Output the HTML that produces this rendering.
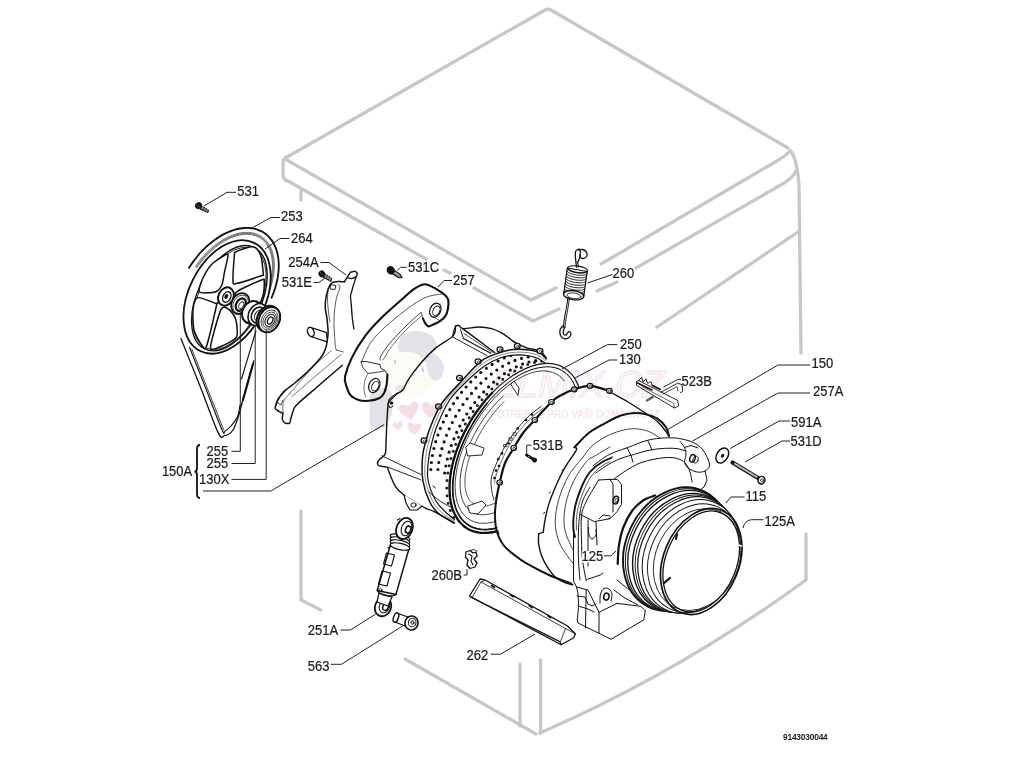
<!DOCTYPE html>
<html><head><meta charset="utf-8"><style>
html,body{margin:0;padding:0;background:#fff;width:1024px;height:768px;overflow:hidden}
svg{display:block}
text{font-family:"Liberation Sans",sans-serif;font-size:13px;fill:#1a1a1a}
.g{fill:none;stroke:#c7c7c7;stroke-width:3.3;stroke-linecap:round;stroke-linejoin:round}
.k{fill:none;stroke:#111;stroke-width:1.1;stroke-linecap:round;stroke-linejoin:round}
.kw{fill:#fff;stroke:#111;stroke-width:1.1;stroke-linejoin:round;stroke-linecap:round}
.kt{fill:none;stroke:#111;stroke-width:2;stroke-linecap:round;stroke-linejoin:round}
.ktw{fill:#fff;stroke:#111;stroke-width:2;stroke-linecap:round;stroke-linejoin:round}
.kf{fill:#111;stroke:none}
.ld{fill:none;stroke:#222;stroke-width:1}
.h{fill:none;stroke:#555;stroke-width:0.7}
</style></head><body>
<svg width="1024" height="768" viewBox="0 0 1024 768">
<!-- cab -->
<g id="cab" class="g">
  <path d="M287,157 L545,10 Q548,8.5 551,10 L788,148"/>
  <path d="M286,157 Q283,159 283,163 L283,175 Q283,179 287,181"/>
  <path d="M286.5,159.8 L531,300 L556,288"/>
  <path d="M601,264 L776,161.5 Q786,155.5 790,151"/>
  <path d="M288,181 L426,259"/>
  <path d="M444,270 L450,273"/>
  <path d="M474,288 L533,321 L559,309"/>
  <path d="M597,291 L617,282"/>
  <path d="M636,268 L785,182.5 Q793,177.5 796.5,170"/>
  <path d="M791,151 Q797,160 799,185 L801,353"/>
  <path d="M301,190 L301,200"/>
  <path d="M657,327 L798,232"/>
  <path d="M301,511 L301,600 L321,610"/>
  <path d="M405,659 L536,734"/>
  <path d="M520,664 L520,726"/>
  <path d="M540.5,660 L540.5,733"/>
  <path d="M540,733 Q680,672 806,580 L806,534"/>
</g>

<!-- pulley -->
<g id="pulley">
<path class="k" d="M181.0,338.7 C184.2,346.6 193.8,370.4 200.0,386.0 C206.2,401.6 213.9,424.1 218.0,432.4 C222.1,440.7 222.0,436.1 224.5,435.7 C227.0,435.3 230.5,433.8 233.0,430.0 C235.5,426.2 238.1,417.2 239.5,413.0 C240.9,408.8 240.1,410.3 241.5,405.0 C242.9,399.7 245.9,388.4 248.0,381.0 C250.1,373.6 252.8,364.2 253.8,360.8" style="stroke-width:1.3"/>
<path class="k" d="M189.5,347.3 C192.2,354.2 200.6,375.2 206.0,389.0 C211.4,402.8 218.8,422.8 222.0,429.8 C225.2,436.8 223.5,431.6 225.0,431.0 C226.5,430.4 228.9,428.4 231.0,426.0 C233.1,423.6 236.0,420.3 237.5,416.8 C239.0,413.3 239.6,407.0 240.0,405.0" />
<path class="k" d="M191.8,349.0 C194.5,355.8 202.7,376.6 208.0,390.0 C213.3,403.4 220.9,422.9 223.5,429.5" style="stroke-width:0.8"/>
<path class="k" d="M241.5,379.0 L253.2,340.0 L256.0,331.0" />
<path class="k" d="M243.0,400.0 L253.0,364.0" style="stroke-width:2.2;stroke-dasharray:1 1"/>
<path class="kt" d="M189.0,267.9 C189.7,267.0 191.4,264.2 192.7,262.4 C194.0,260.6 195.3,258.9 196.7,257.2 C198.0,255.5 199.4,253.8 200.9,252.2 C202.4,250.6 203.9,249.1 205.4,247.6 C206.9,246.2 208.5,244.8 210.1,243.5 C211.7,242.1 213.3,240.9 214.9,239.7 C216.6,238.5 218.2,237.4 219.9,236.4 C221.6,235.4 223.2,234.5 224.9,233.6 C226.6,232.8 228.3,232.1 230.0,231.4 C231.6,230.7 233.3,230.2 235.0,229.7 C236.6,229.2 238.3,228.8 239.9,228.5 C241.5,228.3 243.2,228.1 244.7,228.0 C246.3,227.9 247.9,227.9 249.4,228.0 C250.9,228.1 252.4,228.3 253.8,228.6 C255.2,228.9 256.6,229.3 258.0,229.8 C259.3,230.3 260.6,230.8 261.9,231.5 C263.1,232.2 264.3,233.0 265.4,233.8 C266.5,234.7 267.6,235.6 268.6,236.6 C269.6,237.6 270.5,238.7 271.4,239.9 C272.3,241.1 273.1,242.4 273.8,243.7 C274.5,245.0 275.1,246.5 275.7,247.9 C276.3,249.4 276.8,250.9 277.2,252.5 C277.6,254.1 277.9,255.8 278.2,257.5 C278.4,259.2 278.6,261.0 278.7,262.7 C278.8,264.5 278.8,266.4 278.7,268.3 C278.6,270.1 278.5,272.0 278.2,274.0 C278.0,275.9 277.7,277.9 277.3,279.8 C276.9,281.8 276.4,283.8 275.8,285.8 C275.3,287.8 274.7,289.8 273.9,291.8 C273.2,293.8 272.0,296.8 271.6,297.7" style="stroke-width:1.8"/>
<path class="k" d="M195.3,266.5 C195.9,265.7 197.5,263.3 198.7,261.8 C199.9,260.3 201.1,258.8 202.4,257.3 C203.6,255.9 204.9,254.5 206.2,253.1 C207.5,251.8 208.9,250.5 210.2,249.2 C211.6,248.0 213.0,246.8 214.4,245.7 C215.8,244.5 217.2,243.5 218.7,242.5 C220.1,241.5 221.6,240.6 223.0,239.7 C224.5,238.8 225.9,238.0 227.4,237.3 C228.8,236.6 230.3,236.0 231.7,235.4 C233.2,234.8 234.6,234.3 236.1,233.9 C237.5,233.5 238.9,233.2 240.3,232.9 C241.7,232.7 243.1,232.5 244.4,232.4 C245.8,232.3 247.1,232.3 248.4,232.4 C249.7,232.5 251.0,232.6 252.2,232.8 C253.4,233.1 254.6,233.4 255.8,233.8 C256.9,234.1 258.1,234.6 259.1,235.2 C260.2,235.7 261.2,236.3 262.2,237.0 C263.2,237.7 264.1,238.5 265.0,239.3 C265.8,240.2 266.6,241.1 267.4,242.0 C268.2,243.0 268.9,244.1 269.5,245.2 C270.1,246.3 270.7,247.4 271.2,248.7 C271.8,249.9 272.2,251.2 272.6,252.5 C273.0,253.9 273.3,255.3 273.6,256.7 C273.9,258.1 274.0,259.6 274.2,261.1 C274.3,262.6 274.4,264.2 274.4,265.8 C274.4,267.4 274.3,269.0 274.1,270.7 C274.0,272.3 273.8,274.0 273.5,275.7 C273.3,277.4 272.9,279.2 272.5,280.9 C272.1,282.6 271.6,284.4 271.1,286.1 C270.6,287.9 269.6,290.5 269.3,291.4" style="stroke-width:0.6"/>
<path class="k" d="M196.1,267.1 C196.7,266.3 198.3,264.0 199.5,262.5 C200.6,260.9 201.8,259.5 203.1,258.0 C204.3,256.6 205.6,255.2 206.8,253.9 C208.1,252.6 209.5,251.3 210.8,250.1 C212.1,248.8 213.5,247.7 214.9,246.5 C216.3,245.4 217.7,244.4 219.1,243.4 C220.5,242.4 221.9,241.5 223.3,240.6 C224.7,239.8 226.2,239.0 227.6,238.3 C229.0,237.6 230.4,237.0 231.9,236.4 C233.3,235.8 234.7,235.3 236.1,234.9 C237.5,234.5 238.9,234.2 240.2,233.9 C241.6,233.7 243.0,233.5 244.3,233.4 C245.6,233.3 246.9,233.3 248.2,233.4 C249.4,233.4 250.7,233.6 251.9,233.8 C253.1,234.0 254.3,234.3 255.4,234.7 C256.5,235.0 257.6,235.5 258.6,236.0 C259.7,236.6 260.7,237.2 261.6,237.8 C262.6,238.5 263.5,239.3 264.3,240.1 C265.2,240.9 266.0,241.8 266.7,242.7 C267.4,243.7 268.1,244.7 268.7,245.8 C269.4,246.9 269.9,248.0 270.4,249.2 C270.9,250.4 271.4,251.7 271.7,253.0 C272.1,254.3 272.4,255.7 272.7,257.1 C272.9,258.5 273.1,260.0 273.2,261.4 C273.3,262.9 273.4,264.5 273.4,266.0 C273.4,267.6 273.3,269.2 273.2,270.8 C273.0,272.4 272.8,274.1 272.5,275.8 C272.3,277.4 271.9,279.1 271.5,280.8 C271.1,282.5 270.7,284.3 270.1,286.0 C269.6,287.7 268.7,290.3 268.4,291.1" style="stroke-width:0.6"/>
<path class="k" d="M197.0,267.7 C197.5,266.9 199.1,264.6 200.2,263.1 C201.4,261.6 202.6,260.2 203.8,258.8 C205.0,257.3 206.2,256.0 207.5,254.7 C208.7,253.4 210.0,252.1 211.4,250.9 C212.7,249.7 214.0,248.5 215.4,247.4 C216.7,246.3 218.1,245.3 219.5,244.3 C220.8,243.3 222.2,242.4 223.6,241.6 C225.0,240.8 226.4,240.0 227.8,239.3 C229.2,238.6 230.6,237.9 232.0,237.4 C233.4,236.8 234.8,236.3 236.1,235.9 C237.5,235.5 238.9,235.2 240.2,234.9 C241.5,234.7 242.8,234.5 244.1,234.4 C245.4,234.3 246.7,234.3 247.9,234.3 C249.2,234.4 250.4,234.5 251.6,234.7 C252.7,234.9 253.9,235.2 255.0,235.6 C256.1,235.9 257.1,236.4 258.1,236.9 C259.2,237.4 260.1,238.0 261.1,238.7 C262.0,239.3 262.9,240.1 263.7,240.9 C264.5,241.7 265.3,242.5 266.0,243.5 C266.7,244.4 267.4,245.4 268.0,246.4 C268.6,247.5 269.1,248.6 269.6,249.8 C270.1,251.0 270.5,252.2 270.9,253.5 C271.2,254.8 271.5,256.1 271.8,257.5 C272.0,258.9 272.2,260.3 272.3,261.8 C272.4,263.2 272.4,264.7 272.4,266.3 C272.4,267.8 272.3,269.4 272.2,271.0 C272.0,272.6 271.8,274.2 271.5,275.8 C271.3,277.5 270.9,279.1 270.5,280.8 C270.1,282.5 269.7,284.2 269.1,285.8 C268.6,287.5 267.7,290.1 267.4,290.9" style="stroke-width:0.6"/>
<ellipse class="ktw" cx="227.1" cy="296.9" rx="60.4" ry="38.3" transform="rotate(-63.5 227.1 296.9)" style="stroke-width:1.8"/>
<ellipse class="k" cx="229.4" cy="298.2" rx="56.4" ry="31.8" transform="rotate(-64 229.4 298.2)" style="stroke-width:1.4"/>
<ellipse class="k" cx="229.6" cy="298.4" rx="55.0" ry="30.6" transform="rotate(-64 229.6 298.4)" style="stroke-width:0.8"/>
<path class="kw" d="M199.5,292.0 C198.0,290.4 201.5,281.3 203.0,278.0 C204.5,274.7 209.3,266.7 212.0,264.0 C214.7,261.3 224.1,255.4 226.0,254.5 C227.9,253.6 228.2,254.0 228.0,256.0 C227.8,258.0 225.2,268.7 224.5,272.0 C223.8,275.3 223.0,282.2 222.0,284.5 C221.0,286.8 218.6,290.9 216.0,291.8 C213.4,292.7 201.0,293.6 199.5,292.0 Z" style="stroke-width:1.5"/>
<path class="kw" d="M235.5,252.0 C237.3,251.1 247.1,247.4 249.5,247.0 C251.9,246.6 255.0,247.2 256.4,248.4 C257.8,249.6 260.5,254.2 261.2,257.2 C262.0,260.2 263.2,271.6 263.2,273.8 C263.2,276.0 264.4,274.7 261.2,275.8 C258.1,276.9 239.3,283.0 236.0,283.6 C232.7,284.2 233.2,284.3 233.0,281.0 C232.8,277.7 234.1,258.4 234.4,255.0 C234.7,251.6 233.7,252.9 235.5,252.0 Z" style="stroke-width:1.5"/>
<path class="kw" d="M236.0,292.4 C238.6,289.6 258.9,281.0 262.2,279.7 C265.5,278.4 264.0,280.0 264.2,281.6 C264.4,283.2 264.2,290.7 263.5,293.4 C262.8,296.1 260.7,303.8 258.0,305.0 C255.3,306.2 242.6,305.5 240.0,304.0 C237.4,302.5 233.4,295.2 236.0,292.4 Z" style="stroke-width:1.5"/>
<path class="kw" d="M197.6,297.7 C200.3,297.0 213.9,302.7 216.1,303.6 C218.3,304.5 217.7,300.0 216.6,305.0 C215.5,310.0 208.2,341.9 206.4,346.5 C204.6,351.1 202.4,345.9 201.0,344.0 C199.6,342.1 194.9,334.0 194.0,330.0 C193.1,326.0 192.6,313.8 193.0,310.0 C193.4,306.2 194.9,298.4 197.6,297.7 Z" style="stroke-width:1.5"/>
<path class="kw" d="M221.0,309.4 C223.1,305.0 227.1,308.3 228.8,309.4 C230.5,310.5 234.8,316.0 235.7,319.2 C236.6,322.4 238.2,333.7 236.6,336.8 C235.0,339.9 225.0,344.8 222.0,346.0 C219.0,347.2 210.6,351.8 210.5,347.5 C210.4,343.2 218.9,313.8 221.0,309.4 Z" style="stroke-width:1.5"/>
<ellipse class="ktw" cx="226" cy="296.5" rx="9.5" ry="7.5" transform="rotate(-63 226 296.5)" style="stroke-width:2"/>
<ellipse class="k" cx="226.8" cy="297" rx="5.5" ry="3.8" transform="rotate(-63 226.8 297)" style="stroke-width:1.4"/>
<ellipse class="kf" cx="226.3" cy="296.5" rx="2.5" ry="1.8" transform="rotate(-63 226.3 296.5)" />
<ellipse class="ktw" cx="240.3" cy="303.6" rx="11" ry="8.6" transform="rotate(-62 240.3 303.6)" style="stroke-width:1.7"/>
<ellipse class="k" cx="240.6" cy="304.2" rx="9.6" ry="7.3" transform="rotate(-62 240.6 304.2)" style="stroke-width:0.7"/>
<ellipse class="ktw" cx="240.8" cy="304.6" rx="6.6" ry="4.6" transform="rotate(-62 240.8 304.6)" style="stroke-width:2.2"/>
<ellipse class="k" cx="241.2" cy="305.2" rx="3.8" ry="2.2" transform="rotate(-62 241.2 305.2)" style="stroke-width:0.8"/>
<ellipse class="ktw" cx="251.5" cy="312" rx="11.5" ry="8.8" transform="rotate(-62 251.5 312)" style="stroke-width:1.8"/>
<path class="k" d="M256.6,301.3 L262.0,304.0" style="stroke-width:1.5"/>
<path class="k" d="M246.0,322.6 L252.0,325.0" style="stroke-width:1.5"/>
<ellipse class="ktw" cx="257.5" cy="314.5" rx="11.5" ry="8.8" transform="rotate(-62 257.5 314.5)" style="stroke-width:1.6"/>
<ellipse class="k" cx="258" cy="315" rx="8.3" ry="6.2" transform="rotate(-62 258 315)" style="stroke-width:1.6"/>
<ellipse class="ktw" cx="258.5" cy="315.5" rx="5.5" ry="3.6" transform="rotate(-62 258.5 315.5)" style="stroke-width:1"/>
<ellipse class="ktw" cx="267.5" cy="318.5" rx="13.3" ry="10.2" transform="rotate(-62 267.5 318.5)" style="stroke-width:2"/>
<path class="k" d="M270.5,306.4 L272.5,307.5" />
<ellipse class="ktw" cx="269.3" cy="319.6" rx="13.3" ry="10.2" transform="rotate(-62 269.3 319.6)" style="stroke-width:2"/>
<ellipse class="k" cx="269.6" cy="319.9" rx="10.5" ry="7.9" transform="rotate(-62 269.6 319.9)" style="stroke-width:0.7"/>
<ellipse class="k" cx="269.8" cy="320.1" rx="8.6" ry="6.3" transform="rotate(-62 269.8 320.1)" style="stroke-width:0.7"/>
<ellipse class="k" cx="270" cy="320.3" rx="6.5" ry="4.6" transform="rotate(-62 270 320.3)" style="stroke-width:1"/>
<ellipse class="ktw" cx="270.2" cy="320.5" rx="3.8" ry="2.4" transform="rotate(-62 270.2 320.5)" style="stroke-width:1.3"/>
</g>
<!-- leftparts -->
<g id="leftparts">
<path class="k" d="M201.5,206.0 L208.5,210.0 L208.0,212.5 L200.5,209.5 Z" style="fill:#555;stroke:#111;stroke-width:1"/>
<path class="k" d="M203.0,206.0 L202.2,208.8" style="stroke:#ddd;stroke-width:0.6"/>
<path class="k" d="M205.5,207.4 L204.7,210.2" style="stroke:#ddd;stroke-width:0.6"/>
<path class="k" d="M207.5,208.7 L206.7,211.5" style="stroke:#ddd;stroke-width:0.6"/>
<ellipse class="kf" cx="198.6" cy="205.6" rx="3.6" ry="3.4" transform="rotate(-30 198.6 205.6)" />
<path class="k" d="M197.0,204.5 L199.5,207.0" style="stroke:#777;stroke-width:0.7"/>
<path class="k" d="M324.5,273.5 L331.5,278.0 L331.0,281.5 L323.5,277.5 Z" style="fill:#555;stroke:#111;stroke-width:1"/>
<path class="k" d="M326.3,274.2 L325.5,277.2" style="stroke:#ddd;stroke-width:0.7"/>
<path class="k" d="M328.6,275.6 L327.8,278.6" style="stroke:#ddd;stroke-width:0.7"/>
<path class="k" d="M330.6,277.0 L329.8,280.0" style="stroke:#ddd;stroke-width:0.7"/>
<ellipse class="kf" cx="321.8" cy="273.9" rx="3.3" ry="3.4" transform="rotate(-35 321.8 273.9)" />
<path class="k" d="M320.5,272.5 L322.5,275.0" style="stroke:#777;stroke-width:0.7"/>
<path class="k" d="M393.0,269.5 L400.5,274.8 L402.0,277.6 L398.8,277.8 L391.5,273.3 Z" style="fill:#888;stroke:#111;stroke-width:1.1"/>
<path class="k" d="M395.5,272.5 L399.0,275.2" style="stroke:#ddd;stroke-width:0.8"/>
<ellipse class="kf" cx="390.7" cy="270.3" rx="4.0" ry="4.3" transform="rotate(-30 390.7 270.3)" />
<path d="M346.9,277.6 L350.4,272.3 L355.1,271.1 L357.4,273.5 L356.0,277.5 L351.6,291.7 L350.6,296.0 L351.6,312.8 L353.9,330.0 L343.6,350.8 L342.3,365.2 L297.3,404.2 L294.7,408.0 L290.8,418.5 L289.5,423.1 L284.3,422.4 L282.4,418.5 L283.0,413.3 L277.8,410.7 L275.2,408.0 L277.8,400.3 L283.0,392.5 L296.0,382.0 L309.0,370.4 L322.0,356.0 L326.0,347.0 L327.0,342.0 L328.1,332.7 L327.0,318.6 L325.2,306.9 L326.4,295.2 L329.9,285.2 L332.8,282.3 L337.5,281.7 L344.5,281.7 Z" fill="#fff" stroke="none"/>
<path class="k" d="M344.5,281.7 C343.3,281.7 339.4,281.5 337.5,281.6 C335.6,281.7 334.1,281.7 332.8,282.3 C331.5,282.9 331.0,283.1 329.9,285.2 C328.8,287.3 327.2,291.6 326.4,295.2 C325.6,298.8 325.1,303.0 325.2,306.9 C325.3,310.8 326.5,314.3 327.0,318.6 C327.5,322.9 328.1,328.8 328.1,332.7 C328.1,336.6 327.4,339.6 327.0,342.0 C326.6,344.4 326.8,344.7 326.0,347.0 C325.2,349.3 324.8,352.1 322.0,356.0 C319.2,359.9 313.3,366.1 309.0,370.4 C304.7,374.7 300.3,378.3 296.0,382.0 C291.7,385.7 286.0,389.4 283.0,392.5 C280.0,395.6 279.1,397.7 277.8,400.3 C276.5,402.9 275.2,406.3 275.2,408.0 C275.2,409.7 277.2,410.1 277.6,410.5" style="stroke-width:1.5"/>
<path class="k" d="M344.5,281.7 L346.9,277.6 L350.4,272.3 L355.1,271.1 L357.4,273.5 L356.3,276.4 L354.5,277.8 L351.3,278.6 L346.9,277.6" style="stroke-width:1.4"/>
<path class="k" d="M356.0,277.5 C355.6,278.8 354.2,282.6 353.5,285.0 C352.8,287.4 352.1,289.9 351.6,291.7 C351.1,293.5 350.6,293.8 350.5,296.0 C350.4,298.2 351.0,301.3 351.3,305.0 C351.6,308.7 351.9,314.0 352.3,318.0 C352.7,322.0 353.6,327.2 353.9,329.0" style="stroke-width:1.3"/>
<path class="k" d="M277.6,410.5 C278.2,410.8 280.1,412.0 281.0,412.5 C281.9,413.0 282.8,412.5 283.0,413.5 C283.2,414.5 282.0,417.0 282.2,418.5 C282.4,420.0 283.1,421.8 284.3,422.6 C285.5,423.4 288.4,424.0 289.5,423.3 C290.6,422.6 290.1,420.7 290.8,418.5 C291.5,416.3 292.4,412.4 293.5,410.0 C294.6,407.6 292.9,408.4 297.3,404.2 C301.7,399.9 312.5,391.0 320.0,384.5 C327.5,378.0 338.6,368.4 342.3,365.2" style="stroke-width:1.5"/>
<path class="k" d="M338.7,284.6 C338.9,285.2 340.3,285.6 339.9,288.0 C339.5,290.4 337.3,293.6 336.3,298.7 C335.3,303.8 334.2,310.9 334.0,318.6 C333.8,326.3 334.8,339.8 335.2,345.0 C335.6,350.2 336.3,349.2 336.5,350.0" style="stroke-width:0.7"/>
<path class="k" d="M331.0,284.8 L335.8,285.5 L335.0,289.5 L330.5,289.0 Z" style="stroke-width:0.9"/>
<path class="k" d="M328.1,289.3 C328.0,291.1 327.4,296.2 327.5,300.0 C327.6,303.8 328.1,308.3 328.5,312.0 C328.9,315.7 329.7,320.3 329.9,322.0" style="stroke-width:0.7"/>
<path class="k" d="M331.2,350.8 C328.0,353.7 318.9,360.8 312.0,368.0 C305.1,375.2 293.2,389.5 289.5,393.8" style="stroke-width:0.6"/>
<path class="k" d="M341.0,354.7 C337.2,357.9 326.2,367.1 318.0,374.0 C309.8,380.9 296.3,392.7 292.0,396.4" style="stroke-width:0.6"/>
<path class="k" d="M336.5,350.0 L343.3,352.0" style="stroke-width:0.7"/>
<path class="k" d="M284.6,391.5 C283.5,392.8 279.4,396.8 278.0,399.0 C276.6,401.2 276.3,404.0 276.0,405.0" style="stroke-width:1.1"/>
<path class="k" d="M277.5,403.0 L281.0,405.0 L283.0,400.0" style="stroke-width:0.8"/>
<path class="k" d="M289.5,393.8 C288.8,394.7 286.1,397.3 285.0,399.0 C283.9,400.7 283.3,401.7 283.0,404.0 C282.7,406.3 283.0,411.5 283.0,413.0" style="stroke-width:0.6"/>
<path class="kw" d="M311.0,327.5 L326.5,332.5 L327.3,341.8 L310.5,336.5 Z" style="stroke-width:1.3"/>
<ellipse class="ktw" cx="310.8" cy="332" rx="3.2" ry="4.8" transform="rotate(-20 310.8 332)" style="stroke-width:1.4"/>
<path class="k" d="M314.0,328.5 L325.5,332.5" style="stroke-width:0.6"/>
<path d="M345.9,384.7 L345.1,376.2 L351.9,357.6 L365.4,335.6 L382.3,317.0 L399.3,301.7 L412.8,289.9 L423.0,284.4 L429.8,285.6 L441.6,292.4 L447.6,298.3 L448.4,305.1 L445.9,315.3 L440.0,321.2 L431.5,325.4 L428.1,326.3 L425.5,323.7 L423.0,318.6 L423.0,318.6 L420.0,316.5 L407.8,327.1 L390.8,345.7 L382.3,357.6 L384.9,370.3 L387.4,374.5 L386.6,384.7 L384.0,393.2 L379.0,398.3 L368.8,400.8 L358.6,400.0 L350.2,394.9 L345.9,384.7 Z" fill="#fff" stroke="none"/>
<path class="kt" d="M345.9,384.7 C345.8,383.3 344.1,380.7 345.1,376.2 C346.1,371.7 348.5,364.4 351.9,357.6 C355.3,350.8 360.3,342.4 365.4,335.6 C370.5,328.8 376.6,322.6 382.3,317.0 C388.0,311.4 394.2,306.2 399.3,301.7 C404.4,297.2 408.9,292.8 412.8,289.9 C416.8,287.0 420.2,285.1 423.0,284.4 C425.8,283.7 426.7,284.3 429.8,285.6 C432.9,286.9 438.6,290.3 441.6,292.4 C444.6,294.5 446.5,296.2 447.6,298.3 C448.7,300.4 448.7,302.3 448.4,305.1 C448.1,307.9 447.3,312.6 445.9,315.3 C444.5,318.0 442.4,319.5 440.0,321.2 C437.6,322.9 433.5,324.5 431.5,325.4 C429.5,326.2 429.1,326.6 428.1,326.3 C427.1,326.0 426.4,325.0 425.5,323.7 C424.6,322.4 423.4,319.5 423.0,318.6" style="stroke-width:2.1"/>
<path class="kt" d="M387.4,374.5 C387.3,376.2 387.2,381.6 386.6,384.7 C386.0,387.8 385.3,390.9 384.0,393.2 C382.7,395.5 381.5,397.0 379.0,398.3 C376.5,399.6 372.2,400.5 368.8,400.8 C365.4,401.1 361.7,401.0 358.6,400.0 C355.5,399.0 352.3,397.4 350.2,394.9 C348.1,392.3 346.6,386.4 345.9,384.7" style="stroke-width:2.1"/>
<path class="k" d="M441.6,294.1 C439.7,294.4 433.7,294.9 430.0,296.0 C426.3,297.1 423.9,298.0 419.6,300.5 C415.3,303.0 410.3,306.4 404.4,311.0 C398.5,315.6 389.6,322.7 384.0,328.0 C378.4,333.3 373.8,338.3 370.5,343.0 C367.2,347.7 365.5,352.8 364.0,356.0 C362.5,359.2 361.9,361.0 361.5,362.0" style="stroke-width:0.7"/>
<path class="k" d="M423.0,318.6 C422.8,317.8 422.1,314.8 421.5,314.0 C420.9,313.2 422.4,311.4 419.6,313.6 C416.9,315.8 409.9,322.1 405.0,327.0 C400.1,331.9 393.9,338.3 390.0,343.0 C386.1,347.7 383.2,352.2 381.5,355.0 C379.8,357.8 380.2,359.2 380.0,360.0" style="stroke-width:0.8"/>
<path class="k" d="M421.5,316.0 C418.9,318.3 410.9,325.0 406.0,330.0 C401.1,335.0 395.8,341.0 392.0,346.0 C388.2,351.0 384.5,357.7 383.0,360.0" style="stroke-width:0.6"/>
<path class="k" d="M361.2,361.8 L366.0,361.5 L380.0,364.5 L381.0,368.6 L385.0,370.5 L387.4,374.5" style="stroke-width:0.9"/>
<path class="k" d="M361.2,361.8 L362.5,367.0 L368.0,373.5 L379.0,372.0 L384.0,371.0" style="stroke-width:0.8"/>
<path class="k" d="M368.0,373.5 C367.5,374.6 365.7,377.2 365.0,380.0 C364.3,382.8 363.8,387.2 364.0,390.0 C364.2,392.8 365.7,395.8 366.0,397.0" style="stroke-width:0.6"/>
<path class="k" d="M441.0,321.0 C440.3,320.7 438.2,319.7 437.0,319.0 C435.8,318.3 434.5,317.3 434.0,317.0" style="stroke-width:0.6"/>
<ellipse class="k" cx="435.3" cy="310.2" rx="5.3" ry="7.4" transform="rotate(25 435.3 310.2)" style="stroke-width:1.2"/>
<ellipse class="k" cx="436.3" cy="310.8" rx="3.3" ry="5.0" transform="rotate(25 436.3 310.8)" style="stroke-width:0.9"/>
<ellipse class="k" cx="374.3" cy="385.5" rx="5.3" ry="7.4" transform="rotate(25 374.3 385.5)" style="stroke-width:1.2"/>
<ellipse class="k" cx="375.3" cy="386.1" rx="3.3" ry="5.0" transform="rotate(25 375.3 386.1)" style="stroke-width:0.9"/>
</g>
<!-- center -->
<g id="center">
<ellipse class="" cx="492.3" cy="435.8" rx="95" ry="61.9" transform="rotate(-60.65 492.3 435.8)" fill="#fff" stroke="none"/>
<path d="M458.8,325.5 L455.6,326.5 L453.3,335.6 L435.0,348.6 L422.0,361.7 L409.0,378.6 L402.5,390.3 L396.0,394.0 L390.0,399.0 L388.2,403.3 L387.0,420.0 L386.0,442.3 L385.2,454.1 L380.0,459.0 L377.6,462.5 L378.5,465.5 L383.0,466.5 L387.5,467.5 L388.6,471.0 L395.4,486.3 L403.8,494.8 L414.0,501.5 L425.8,508.3 L434.3,511.7 L454.4,523.0 L470.0,520.0 L520.0,470.0 L546.0,358.0 L546.2,358.0 L540.0,351.2 L527.5,348.1 L518.0,344.2 L511.9,340.3 L502.5,333.3 L491.6,328.6 L479.0,327.0 L463.4,328.6 L458.8,325.5 Z" fill="#fff" stroke="none"/>
<path class="k" d="M458.8,325.5 C458.2,325.7 456.5,324.8 455.6,326.5 C454.7,328.2 456.7,331.9 453.3,335.6 C449.9,339.3 440.2,344.2 435.0,348.6 C429.8,353.0 426.3,356.7 422.0,361.7 C417.7,366.7 412.2,373.8 409.0,378.6 C405.8,383.4 404.7,387.7 402.5,390.3 C400.3,392.9 398.1,392.6 396.0,394.0 C393.9,395.4 391.3,397.4 390.0,399.0 C388.7,400.6 388.7,399.8 388.2,403.3 C387.7,406.8 387.4,413.5 387.0,420.0 C386.6,426.5 386.3,436.6 386.0,442.3 C385.7,448.0 386.2,451.3 385.2,454.1 C384.2,456.9 381.3,457.6 380.0,459.0 C378.7,460.4 377.9,461.4 377.6,462.5 C377.4,463.6 377.6,464.8 378.5,465.5 C379.4,466.2 381.5,466.2 383.0,466.5 C384.5,466.8 386.6,466.8 387.5,467.5 C388.4,468.2 387.3,467.9 388.6,471.0 C389.9,474.1 392.9,482.3 395.4,486.3 C397.9,490.3 400.7,492.3 403.8,494.8 C406.9,497.3 410.3,499.2 414.0,501.5 C417.7,503.8 422.4,506.6 425.8,508.3 C429.2,510.0 429.5,509.2 434.3,511.7 C439.1,514.1 451.0,521.1 454.4,523.0" style="stroke-width:1.4"/>
<path class="k" d="M458.8,325.5 C459.5,326.0 460.0,328.4 463.4,328.6 C466.8,328.9 474.3,327.0 479.0,327.0 C483.7,327.0 487.7,327.6 491.6,328.6 C495.5,329.7 499.1,331.4 502.5,333.3 C505.9,335.2 509.3,338.5 511.9,340.3 C514.5,342.1 515.4,342.9 518.0,344.2 C520.6,345.5 523.8,346.9 527.5,348.1 C531.2,349.3 536.9,349.6 540.0,351.2 C543.1,352.9 545.2,356.9 546.2,358.0" style="stroke-width:1.4"/>
<path class="k" d="M462.7,328.7 L494.7,352.5" style="stroke-width:1.5"/>
<path class="k" d="M463.4,338.4 L490.8,353.3" style="stroke-width:1.1"/>
<path class="k" d="M464.0,333.5 L492.5,352.5" style="stroke-width:0.7"/>
<path class="k" d="M460.5,329.5 L463.4,338.4" style="stroke-width:1"/>
<path class="k" d="M452.5,336.9 L486.9,355.6" style="stroke-width:0.9"/>
<path class="k" d="M455.6,325.8 L453.5,332.0 L452.5,336.9" style="stroke-width:1.2"/>
<path class="k" d="M381.8,455.8 L421.0,474.5" style="stroke-width:0.9"/>
<path class="k" d="M387.5,467.0 L421.0,480.0" style="stroke-width:0.9"/>
<path class="kw" d="M404.0,494.5 L406.0,503.0 L410.0,510.0 L417.0,510.0 L422.0,506.0" style="stroke-width:1.2"/>
<ellipse class="k" cx="413.5" cy="505" rx="2.6" ry="2.2" transform="rotate(0 413.5 505)" style="stroke-width:1"/>
<path class="k" d="M402.5,390.3 L396.0,395.0 L391.0,400.0 L388.0,404.0 L390.0,408.0 L393.0,406.0" style="stroke-width:1"/>
<ellipse class="kf" cx="391.5" cy="403" rx="1.8" ry="1.5" transform="rotate(0 391.5 403)" />
<defs><mask id="perfmask" maskUnits="userSpaceOnUse" x="0" y="0" width="1024" height="768"><path d="M454.4,519.5 C452.8,518.2 448.1,514.7 445.0,511.5 C441.9,508.3 438.4,505.8 435.6,500.5 C432.8,495.2 429.2,486.3 428.0,480.0 C426.8,473.7 427.7,468.0 428.2,462.5 C428.7,457.0 429.3,453.0 430.8,446.9 C432.3,440.8 433.9,433.8 437.0,426.0 C440.1,418.2 444.8,407.3 449.6,400.0 C454.4,392.7 460.2,387.7 466.0,382.0 C471.8,376.3 478.9,370.0 484.6,366.0 C490.3,362.0 495.2,359.8 500.0,358.0 C504.8,356.2 508.8,355.6 513.4,355.2 C518.0,354.8 523.4,354.9 527.5,355.5 C531.6,356.1 535.1,357.2 538.0,358.5 C540.9,359.8 543.8,362.2 545.0,363.0 L600,420 L560,560 Z" fill="#fff"/><ellipse cx="515.8" cy="448.2" rx="94.6" ry="53.5" transform="rotate(-58.8 515.8 448.2)" fill="#000"/></mask></defs>
<path d="M564.9,365.7m-1.5,0a1.5,1.5 0 1,0 3,0a1.5,1.5 0 1,0 -3,0M570.8,370.3m-1.5,0a1.5,1.5 0 1,0 3,0a1.5,1.5 0 1,0 -3,0M575.5,376.1m-1.5,0a1.5,1.5 0 1,0 3,0a1.5,1.5 0 1,0 -3,0M579.1,382.8m-1.5,0a1.5,1.5 0 1,0 3,0a1.5,1.5 0 1,0 -3,0M581.6,390.1m-1.5,0a1.5,1.5 0 1,0 3,0a1.5,1.5 0 1,0 -3,0M583.1,397.6m-1.5,0a1.5,1.5 0 1,0 3,0a1.5,1.5 0 1,0 -3,0M583.7,405.2m-1.5,0a1.5,1.5 0 1,0 3,0a1.5,1.5 0 1,0 -3,0M583.6,412.7m-1.5,0a1.5,1.5 0 1,0 3,0a1.5,1.5 0 1,0 -3,0M582.9,420.3m-1.5,0a1.5,1.5 0 1,0 3,0a1.5,1.5 0 1,0 -3,0M581.7,427.7m-1.5,0a1.5,1.5 0 1,0 3,0a1.5,1.5 0 1,0 -3,0M580.1,435.0m-1.5,0a1.5,1.5 0 1,0 3,0a1.5,1.5 0 1,0 -3,0M578.0,442.2m-1.5,0a1.5,1.5 0 1,0 3,0a1.5,1.5 0 1,0 -3,0M575.6,449.3m-1.5,0a1.5,1.5 0 1,0 3,0a1.5,1.5 0 1,0 -3,0M572.8,456.2m-1.5,0a1.5,1.5 0 1,0 3,0a1.5,1.5 0 1,0 -3,0M569.7,463.0m-1.5,0a1.5,1.5 0 1,0 3,0a1.5,1.5 0 1,0 -3,0M566.3,469.6m-1.5,0a1.5,1.5 0 1,0 3,0a1.5,1.5 0 1,0 -3,0M562.6,476.0m-1.5,0a1.5,1.5 0 1,0 3,0a1.5,1.5 0 1,0 -3,0M558.7,482.3m-1.5,0a1.5,1.5 0 1,0 3,0a1.5,1.5 0 1,0 -3,0M554.5,488.4m-1.5,0a1.5,1.5 0 1,0 3,0a1.5,1.5 0 1,0 -3,0M550.0,494.2m-1.5,0a1.5,1.5 0 1,0 3,0a1.5,1.5 0 1,0 -3,0M545.2,499.8m-1.5,0a1.5,1.5 0 1,0 3,0a1.5,1.5 0 1,0 -3,0M540.3,505.2m-1.5,0a1.5,1.5 0 1,0 3,0a1.5,1.5 0 1,0 -3,0M535.0,510.3m-1.5,0a1.5,1.5 0 1,0 3,0a1.5,1.5 0 1,0 -3,0M529.5,515.1m-1.5,0a1.5,1.5 0 1,0 3,0a1.5,1.5 0 1,0 -3,0M523.8,519.6m-1.5,0a1.5,1.5 0 1,0 3,0a1.5,1.5 0 1,0 -3,0M517.8,523.6m-1.5,0a1.5,1.5 0 1,0 3,0a1.5,1.5 0 1,0 -3,0M511.5,527.2m-1.5,0a1.5,1.5 0 1,0 3,0a1.5,1.5 0 1,0 -3,0M504.9,530.3m-1.5,0a1.5,1.5 0 1,0 3,0a1.5,1.5 0 1,0 -3,0M498.2,532.7m-1.5,0a1.5,1.5 0 1,0 3,0a1.5,1.5 0 1,0 -3,0M491.2,534.3m-1.5,0a1.5,1.5 0 1,0 3,0a1.5,1.5 0 1,0 -3,0M484.0,534.9m-1.5,0a1.5,1.5 0 1,0 3,0a1.5,1.5 0 1,0 -3,0M476.9,534.3m-1.5,0a1.5,1.5 0 1,0 3,0a1.5,1.5 0 1,0 -3,0M469.9,532.3m-1.5,0a1.5,1.5 0 1,0 3,0a1.5,1.5 0 1,0 -3,0M463.5,528.7m-1.5,0a1.5,1.5 0 1,0 3,0a1.5,1.5 0 1,0 -3,0M458.0,523.7m-1.5,0a1.5,1.5 0 1,0 3,0a1.5,1.5 0 1,0 -3,0M453.6,517.6m-1.5,0a1.5,1.5 0 1,0 3,0a1.5,1.5 0 1,0 -3,0M450.4,510.6m-1.5,0a1.5,1.5 0 1,0 3,0a1.5,1.5 0 1,0 -3,0M448.2,503.3m-1.5,0a1.5,1.5 0 1,0 3,0a1.5,1.5 0 1,0 -3,0M447.1,495.7m-1.5,0a1.5,1.5 0 1,0 3,0a1.5,1.5 0 1,0 -3,0M446.7,488.1m-1.5,0a1.5,1.5 0 1,0 3,0a1.5,1.5 0 1,0 -3,0M447.0,480.6m-1.5,0a1.5,1.5 0 1,0 3,0a1.5,1.5 0 1,0 -3,0M447.9,473.1m-1.5,0a1.5,1.5 0 1,0 3,0a1.5,1.5 0 1,0 -3,0M449.2,465.7m-1.5,0a1.5,1.5 0 1,0 3,0a1.5,1.5 0 1,0 -3,0M451.0,458.4m-1.5,0a1.5,1.5 0 1,0 3,0a1.5,1.5 0 1,0 -3,0M453.2,451.2m-1.5,0a1.5,1.5 0 1,0 3,0a1.5,1.5 0 1,0 -3,0M455.7,444.2m-1.5,0a1.5,1.5 0 1,0 3,0a1.5,1.5 0 1,0 -3,0M458.6,437.3m-1.5,0a1.5,1.5 0 1,0 3,0a1.5,1.5 0 1,0 -3,0M461.8,430.6m-1.5,0a1.5,1.5 0 1,0 3,0a1.5,1.5 0 1,0 -3,0M465.3,424.0m-1.5,0a1.5,1.5 0 1,0 3,0a1.5,1.5 0 1,0 -3,0M469.1,417.7m-1.5,0a1.5,1.5 0 1,0 3,0a1.5,1.5 0 1,0 -3,0M473.1,411.5m-1.5,0a1.5,1.5 0 1,0 3,0a1.5,1.5 0 1,0 -3,0M477.4,405.5m-1.5,0a1.5,1.5 0 1,0 3,0a1.5,1.5 0 1,0 -3,0M482.0,399.7m-1.5,0a1.5,1.5 0 1,0 3,0a1.5,1.5 0 1,0 -3,0M486.8,394.2m-1.5,0a1.5,1.5 0 1,0 3,0a1.5,1.5 0 1,0 -3,0M491.9,388.9m-1.5,0a1.5,1.5 0 1,0 3,0a1.5,1.5 0 1,0 -3,0M497.2,383.9m-1.5,0a1.5,1.5 0 1,0 3,0a1.5,1.5 0 1,0 -3,0M502.8,379.2m-1.5,0a1.5,1.5 0 1,0 3,0a1.5,1.5 0 1,0 -3,0M508.6,374.8m-1.5,0a1.5,1.5 0 1,0 3,0a1.5,1.5 0 1,0 -3,0M514.7,370.9m-1.5,0a1.5,1.5 0 1,0 3,0a1.5,1.5 0 1,0 -3,0M521.1,367.5m-1.5,0a1.5,1.5 0 1,0 3,0a1.5,1.5 0 1,0 -3,0M527.7,364.6m-1.5,0a1.5,1.5 0 1,0 3,0a1.5,1.5 0 1,0 -3,0M534.5,362.5m-1.5,0a1.5,1.5 0 1,0 3,0a1.5,1.5 0 1,0 -3,0M541.6,361.2m-1.5,0a1.5,1.5 0 1,0 3,0a1.5,1.5 0 1,0 -3,0M548.7,361.0m-1.5,0a1.5,1.5 0 1,0 3,0a1.5,1.5 0 1,0 -3,0M555.9,362.0m-1.5,0a1.5,1.5 0 1,0 3,0a1.5,1.5 0 1,0 -3,0M562.7,364.5m-1.5,0a1.5,1.5 0 1,0 3,0a1.5,1.5 0 1,0 -3,0" fill="#222" mask="url(#perfmask)"/>
<path d="M541.4,354.5m-1.6,0a1.6,1.6 0 1,0 3.2,0a1.6,1.6 0 1,0 -3.2,0M547.2,358.5m-1.6,0a1.6,1.6 0 1,0 3.2,0a1.6,1.6 0 1,0 -3.2,0M552.2,363.4m-1.6,0a1.6,1.6 0 1,0 3.2,0a1.6,1.6 0 1,0 -3.2,0M556.4,369.2m-1.6,0a1.6,1.6 0 1,0 3.2,0a1.6,1.6 0 1,0 -3.2,0M559.7,375.5m-1.6,0a1.6,1.6 0 1,0 3.2,0a1.6,1.6 0 1,0 -3.2,0M562.2,382.2m-1.6,0a1.6,1.6 0 1,0 3.2,0a1.6,1.6 0 1,0 -3.2,0M563.9,389.2m-1.6,0a1.6,1.6 0 1,0 3.2,0a1.6,1.6 0 1,0 -3.2,0M565.0,396.3m-1.6,0a1.6,1.6 0 1,0 3.2,0a1.6,1.6 0 1,0 -3.2,0M565.4,403.4m-1.6,0a1.6,1.6 0 1,0 3.2,0a1.6,1.6 0 1,0 -3.2,0M565.2,410.5m-1.6,0a1.6,1.6 0 1,0 3.2,0a1.6,1.6 0 1,0 -3.2,0M564.6,417.6m-1.6,0a1.6,1.6 0 1,0 3.2,0a1.6,1.6 0 1,0 -3.2,0M563.5,424.6m-1.6,0a1.6,1.6 0 1,0 3.2,0a1.6,1.6 0 1,0 -3.2,0M562.0,431.5m-1.6,0a1.6,1.6 0 1,0 3.2,0a1.6,1.6 0 1,0 -3.2,0M560.1,438.3m-1.6,0a1.6,1.6 0 1,0 3.2,0a1.6,1.6 0 1,0 -3.2,0M557.9,445.0m-1.6,0a1.6,1.6 0 1,0 3.2,0a1.6,1.6 0 1,0 -3.2,0M555.3,451.5m-1.6,0a1.6,1.6 0 1,0 3.2,0a1.6,1.6 0 1,0 -3.2,0M552.5,457.9m-1.6,0a1.6,1.6 0 1,0 3.2,0a1.6,1.6 0 1,0 -3.2,0M549.3,464.2m-1.6,0a1.6,1.6 0 1,0 3.2,0a1.6,1.6 0 1,0 -3.2,0M545.8,470.3m-1.6,0a1.6,1.6 0 1,0 3.2,0a1.6,1.6 0 1,0 -3.2,0M542.1,476.2m-1.6,0a1.6,1.6 0 1,0 3.2,0a1.6,1.6 0 1,0 -3.2,0M538.1,481.9m-1.6,0a1.6,1.6 0 1,0 3.2,0a1.6,1.6 0 1,0 -3.2,0M533.8,487.4m-1.6,0a1.6,1.6 0 1,0 3.2,0a1.6,1.6 0 1,0 -3.2,0M529.3,492.7m-1.6,0a1.6,1.6 0 1,0 3.2,0a1.6,1.6 0 1,0 -3.2,0M524.5,497.7m-1.6,0a1.6,1.6 0 1,0 3.2,0a1.6,1.6 0 1,0 -3.2,0M519.4,502.4m-1.6,0a1.6,1.6 0 1,0 3.2,0a1.6,1.6 0 1,0 -3.2,0M514.1,506.9m-1.6,0a1.6,1.6 0 1,0 3.2,0a1.6,1.6 0 1,0 -3.2,0M508.5,511.0m-1.6,0a1.6,1.6 0 1,0 3.2,0a1.6,1.6 0 1,0 -3.2,0M502.7,514.6m-1.6,0a1.6,1.6 0 1,0 3.2,0a1.6,1.6 0 1,0 -3.2,0M496.7,517.9m-1.6,0a1.6,1.6 0 1,0 3.2,0a1.6,1.6 0 1,0 -3.2,0M490.4,520.6m-1.6,0a1.6,1.6 0 1,0 3.2,0a1.6,1.6 0 1,0 -3.2,0M483.9,522.8m-1.6,0a1.6,1.6 0 1,0 3.2,0a1.6,1.6 0 1,0 -3.2,0M477.2,524.2m-1.6,0a1.6,1.6 0 1,0 3.2,0a1.6,1.6 0 1,0 -3.2,0M424.0,473.5m-1.6,0a1.6,1.6 0 1,0 3.2,0a1.6,1.6 0 1,0 -3.2,0M424.0,466.3m-1.6,0a1.6,1.6 0 1,0 3.2,0a1.6,1.6 0 1,0 -3.2,0M424.4,459.2m-1.6,0a1.6,1.6 0 1,0 3.2,0a1.6,1.6 0 1,0 -3.2,0M425.3,452.2m-1.6,0a1.6,1.6 0 1,0 3.2,0a1.6,1.6 0 1,0 -3.2,0M426.7,445.3m-1.6,0a1.6,1.6 0 1,0 3.2,0a1.6,1.6 0 1,0 -3.2,0M428.4,438.4m-1.6,0a1.6,1.6 0 1,0 3.2,0a1.6,1.6 0 1,0 -3.2,0M430.5,431.7m-1.6,0a1.6,1.6 0 1,0 3.2,0a1.6,1.6 0 1,0 -3.2,0M432.9,425.1m-1.6,0a1.6,1.6 0 1,0 3.2,0a1.6,1.6 0 1,0 -3.2,0M435.7,418.6m-1.6,0a1.6,1.6 0 1,0 3.2,0a1.6,1.6 0 1,0 -3.2,0M438.7,412.3m-1.6,0a1.6,1.6 0 1,0 3.2,0a1.6,1.6 0 1,0 -3.2,0M442.1,406.1m-1.6,0a1.6,1.6 0 1,0 3.2,0a1.6,1.6 0 1,0 -3.2,0M445.7,400.2m-1.6,0a1.6,1.6 0 1,0 3.2,0a1.6,1.6 0 1,0 -3.2,0M449.6,394.4m-1.6,0a1.6,1.6 0 1,0 3.2,0a1.6,1.6 0 1,0 -3.2,0M453.8,388.8m-1.6,0a1.6,1.6 0 1,0 3.2,0a1.6,1.6 0 1,0 -3.2,0M458.2,383.4m-1.6,0a1.6,1.6 0 1,0 3.2,0a1.6,1.6 0 1,0 -3.2,0M462.9,378.3m-1.6,0a1.6,1.6 0 1,0 3.2,0a1.6,1.6 0 1,0 -3.2,0M467.9,373.4m-1.6,0a1.6,1.6 0 1,0 3.2,0a1.6,1.6 0 1,0 -3.2,0M473.1,368.9m-1.6,0a1.6,1.6 0 1,0 3.2,0a1.6,1.6 0 1,0 -3.2,0M478.6,364.7m-1.6,0a1.6,1.6 0 1,0 3.2,0a1.6,1.6 0 1,0 -3.2,0M484.3,360.8m-1.6,0a1.6,1.6 0 1,0 3.2,0a1.6,1.6 0 1,0 -3.2,0M490.3,357.4m-1.6,0a1.6,1.6 0 1,0 3.2,0a1.6,1.6 0 1,0 -3.2,0M496.5,354.4m-1.6,0a1.6,1.6 0 1,0 3.2,0a1.6,1.6 0 1,0 -3.2,0M502.9,352.1m-1.6,0a1.6,1.6 0 1,0 3.2,0a1.6,1.6 0 1,0 -3.2,0M509.5,350.3m-1.6,0a1.6,1.6 0 1,0 3.2,0a1.6,1.6 0 1,0 -3.2,0M516.3,349.4m-1.6,0a1.6,1.6 0 1,0 3.2,0a1.6,1.6 0 1,0 -3.2,0M523.1,349.3m-1.6,0a1.6,1.6 0 1,0 3.2,0a1.6,1.6 0 1,0 -3.2,0M529.9,350.2m-1.6,0a1.6,1.6 0 1,0 3.2,0a1.6,1.6 0 1,0 -3.2,0M536.6,352.2m-1.6,0a1.6,1.6 0 1,0 3.2,0a1.6,1.6 0 1,0 -3.2,0M549.0,359.0m-1.6,0a1.6,1.6 0 1,0 3.2,0a1.6,1.6 0 1,0 -3.2,0M554.5,363.3m-1.6,0a1.6,1.6 0 1,0 3.2,0a1.6,1.6 0 1,0 -3.2,0M559.2,368.7m-1.6,0a1.6,1.6 0 1,0 3.2,0a1.6,1.6 0 1,0 -3.2,0M563.0,374.8m-1.6,0a1.6,1.6 0 1,0 3.2,0a1.6,1.6 0 1,0 -3.2,0M565.8,381.3m-1.6,0a1.6,1.6 0 1,0 3.2,0a1.6,1.6 0 1,0 -3.2,0M567.8,388.2m-1.6,0a1.6,1.6 0 1,0 3.2,0a1.6,1.6 0 1,0 -3.2,0M569.0,395.3m-1.6,0a1.6,1.6 0 1,0 3.2,0a1.6,1.6 0 1,0 -3.2,0M569.6,402.4m-1.6,0a1.6,1.6 0 1,0 3.2,0a1.6,1.6 0 1,0 -3.2,0M569.6,409.6m-1.6,0a1.6,1.6 0 1,0 3.2,0a1.6,1.6 0 1,0 -3.2,0M569.1,416.7m-1.6,0a1.6,1.6 0 1,0 3.2,0a1.6,1.6 0 1,0 -3.2,0M568.1,423.7m-1.6,0a1.6,1.6 0 1,0 3.2,0a1.6,1.6 0 1,0 -3.2,0M566.6,430.6m-1.6,0a1.6,1.6 0 1,0 3.2,0a1.6,1.6 0 1,0 -3.2,0M564.8,437.5m-1.6,0a1.6,1.6 0 1,0 3.2,0a1.6,1.6 0 1,0 -3.2,0M562.7,444.2m-1.6,0a1.6,1.6 0 1,0 3.2,0a1.6,1.6 0 1,0 -3.2,0M560.2,450.8m-1.6,0a1.6,1.6 0 1,0 3.2,0a1.6,1.6 0 1,0 -3.2,0M557.4,457.2m-1.6,0a1.6,1.6 0 1,0 3.2,0a1.6,1.6 0 1,0 -3.2,0M554.3,463.5m-1.6,0a1.6,1.6 0 1,0 3.2,0a1.6,1.6 0 1,0 -3.2,0M550.9,469.7m-1.6,0a1.6,1.6 0 1,0 3.2,0a1.6,1.6 0 1,0 -3.2,0M547.3,475.6m-1.6,0a1.6,1.6 0 1,0 3.2,0a1.6,1.6 0 1,0 -3.2,0M543.4,481.4m-1.6,0a1.6,1.6 0 1,0 3.2,0a1.6,1.6 0 1,0 -3.2,0M539.2,487.0m-1.6,0a1.6,1.6 0 1,0 3.2,0a1.6,1.6 0 1,0 -3.2,0M534.8,492.4m-1.6,0a1.6,1.6 0 1,0 3.2,0a1.6,1.6 0 1,0 -3.2,0M530.1,497.5m-1.6,0a1.6,1.6 0 1,0 3.2,0a1.6,1.6 0 1,0 -3.2,0M525.2,502.4m-1.6,0a1.6,1.6 0 1,0 3.2,0a1.6,1.6 0 1,0 -3.2,0M520.0,507.0m-1.6,0a1.6,1.6 0 1,0 3.2,0a1.6,1.6 0 1,0 -3.2,0M514.5,511.2m-1.6,0a1.6,1.6 0 1,0 3.2,0a1.6,1.6 0 1,0 -3.2,0M508.9,515.1m-1.6,0a1.6,1.6 0 1,0 3.2,0a1.6,1.6 0 1,0 -3.2,0M502.9,518.6m-1.6,0a1.6,1.6 0 1,0 3.2,0a1.6,1.6 0 1,0 -3.2,0M496.8,521.6m-1.6,0a1.6,1.6 0 1,0 3.2,0a1.6,1.6 0 1,0 -3.2,0M490.4,524.0m-1.6,0a1.6,1.6 0 1,0 3.2,0a1.6,1.6 0 1,0 -3.2,0M483.8,525.8m-1.6,0a1.6,1.6 0 1,0 3.2,0a1.6,1.6 0 1,0 -3.2,0M477.0,526.8m-1.6,0a1.6,1.6 0 1,0 3.2,0a1.6,1.6 0 1,0 -3.2,0M430.8,469.6m-1.6,0a1.6,1.6 0 1,0 3.2,0a1.6,1.6 0 1,0 -3.2,0M431.4,462.5m-1.6,0a1.6,1.6 0 1,0 3.2,0a1.6,1.6 0 1,0 -3.2,0M432.4,455.5m-1.6,0a1.6,1.6 0 1,0 3.2,0a1.6,1.6 0 1,0 -3.2,0M433.9,448.5m-1.6,0a1.6,1.6 0 1,0 3.2,0a1.6,1.6 0 1,0 -3.2,0M435.7,441.7m-1.6,0a1.6,1.6 0 1,0 3.2,0a1.6,1.6 0 1,0 -3.2,0M437.9,435.0m-1.6,0a1.6,1.6 0 1,0 3.2,0a1.6,1.6 0 1,0 -3.2,0M440.4,428.4m-1.6,0a1.6,1.6 0 1,0 3.2,0a1.6,1.6 0 1,0 -3.2,0M443.3,422.0m-1.6,0a1.6,1.6 0 1,0 3.2,0a1.6,1.6 0 1,0 -3.2,0M446.4,415.7m-1.6,0a1.6,1.6 0 1,0 3.2,0a1.6,1.6 0 1,0 -3.2,0M449.8,409.6m-1.6,0a1.6,1.6 0 1,0 3.2,0a1.6,1.6 0 1,0 -3.2,0M453.5,403.6m-1.6,0a1.6,1.6 0 1,0 3.2,0a1.6,1.6 0 1,0 -3.2,0M457.4,397.9m-1.6,0a1.6,1.6 0 1,0 3.2,0a1.6,1.6 0 1,0 -3.2,0M461.6,392.3m-1.6,0a1.6,1.6 0 1,0 3.2,0a1.6,1.6 0 1,0 -3.2,0M466.1,387.0m-1.6,0a1.6,1.6 0 1,0 3.2,0a1.6,1.6 0 1,0 -3.2,0M470.8,381.9m-1.6,0a1.6,1.6 0 1,0 3.2,0a1.6,1.6 0 1,0 -3.2,0M475.7,377.0m-1.6,0a1.6,1.6 0 1,0 3.2,0a1.6,1.6 0 1,0 -3.2,0M480.9,372.5m-1.6,0a1.6,1.6 0 1,0 3.2,0a1.6,1.6 0 1,0 -3.2,0M486.4,368.3m-1.6,0a1.6,1.6 0 1,0 3.2,0a1.6,1.6 0 1,0 -3.2,0M492.1,364.4m-1.6,0a1.6,1.6 0 1,0 3.2,0a1.6,1.6 0 1,0 -3.2,0M498.1,361.0m-1.6,0a1.6,1.6 0 1,0 3.2,0a1.6,1.6 0 1,0 -3.2,0M504.3,358.0m-1.6,0a1.6,1.6 0 1,0 3.2,0a1.6,1.6 0 1,0 -3.2,0M510.7,355.6m-1.6,0a1.6,1.6 0 1,0 3.2,0a1.6,1.6 0 1,0 -3.2,0M517.3,353.9m-1.6,0a1.6,1.6 0 1,0 3.2,0a1.6,1.6 0 1,0 -3.2,0M524.1,353.0m-1.6,0a1.6,1.6 0 1,0 3.2,0a1.6,1.6 0 1,0 -3.2,0M530.9,353.0m-1.6,0a1.6,1.6 0 1,0 3.2,0a1.6,1.6 0 1,0 -3.2,0M537.7,354.1m-1.6,0a1.6,1.6 0 1,0 3.2,0a1.6,1.6 0 1,0 -3.2,0M544.2,356.3m-1.6,0a1.6,1.6 0 1,0 3.2,0a1.6,1.6 0 1,0 -3.2,0M553.4,361.5m-1.6,0a1.6,1.6 0 1,0 3.2,0a1.6,1.6 0 1,0 -3.2,0M559.1,365.7m-1.6,0a1.6,1.6 0 1,0 3.2,0a1.6,1.6 0 1,0 -3.2,0M563.9,370.9m-1.6,0a1.6,1.6 0 1,0 3.2,0a1.6,1.6 0 1,0 -3.2,0M567.7,377.0m-1.6,0a1.6,1.6 0 1,0 3.2,0a1.6,1.6 0 1,0 -3.2,0M570.5,383.6m-1.6,0a1.6,1.6 0 1,0 3.2,0a1.6,1.6 0 1,0 -3.2,0M572.4,390.6m-1.6,0a1.6,1.6 0 1,0 3.2,0a1.6,1.6 0 1,0 -3.2,0M573.5,397.7m-1.6,0a1.6,1.6 0 1,0 3.2,0a1.6,1.6 0 1,0 -3.2,0M574.0,404.8m-1.6,0a1.6,1.6 0 1,0 3.2,0a1.6,1.6 0 1,0 -3.2,0M573.8,411.9m-1.6,0a1.6,1.6 0 1,0 3.2,0a1.6,1.6 0 1,0 -3.2,0M573.2,419.0m-1.6,0a1.6,1.6 0 1,0 3.2,0a1.6,1.6 0 1,0 -3.2,0M572.1,426.1m-1.6,0a1.6,1.6 0 1,0 3.2,0a1.6,1.6 0 1,0 -3.2,0M570.5,433.0m-1.6,0a1.6,1.6 0 1,0 3.2,0a1.6,1.6 0 1,0 -3.2,0M568.6,439.8m-1.6,0a1.6,1.6 0 1,0 3.2,0a1.6,1.6 0 1,0 -3.2,0M566.4,446.5m-1.6,0a1.6,1.6 0 1,0 3.2,0a1.6,1.6 0 1,0 -3.2,0M563.8,453.1m-1.6,0a1.6,1.6 0 1,0 3.2,0a1.6,1.6 0 1,0 -3.2,0M560.9,459.5m-1.6,0a1.6,1.6 0 1,0 3.2,0a1.6,1.6 0 1,0 -3.2,0M557.8,465.7m-1.6,0a1.6,1.6 0 1,0 3.2,0a1.6,1.6 0 1,0 -3.2,0M554.4,471.9m-1.6,0a1.6,1.6 0 1,0 3.2,0a1.6,1.6 0 1,0 -3.2,0M550.7,477.8m-1.6,0a1.6,1.6 0 1,0 3.2,0a1.6,1.6 0 1,0 -3.2,0M546.7,483.6m-1.6,0a1.6,1.6 0 1,0 3.2,0a1.6,1.6 0 1,0 -3.2,0M542.5,489.1m-1.6,0a1.6,1.6 0 1,0 3.2,0a1.6,1.6 0 1,0 -3.2,0M538.1,494.5m-1.6,0a1.6,1.6 0 1,0 3.2,0a1.6,1.6 0 1,0 -3.2,0M533.4,499.6m-1.6,0a1.6,1.6 0 1,0 3.2,0a1.6,1.6 0 1,0 -3.2,0M528.5,504.5m-1.6,0a1.6,1.6 0 1,0 3.2,0a1.6,1.6 0 1,0 -3.2,0M523.3,509.1m-1.6,0a1.6,1.6 0 1,0 3.2,0a1.6,1.6 0 1,0 -3.2,0M517.9,513.3m-1.6,0a1.6,1.6 0 1,0 3.2,0a1.6,1.6 0 1,0 -3.2,0M512.2,517.3m-1.6,0a1.6,1.6 0 1,0 3.2,0a1.6,1.6 0 1,0 -3.2,0M506.3,520.8m-1.6,0a1.6,1.6 0 1,0 3.2,0a1.6,1.6 0 1,0 -3.2,0M500.2,523.8m-1.6,0a1.6,1.6 0 1,0 3.2,0a1.6,1.6 0 1,0 -3.2,0M493.8,526.2m-1.6,0a1.6,1.6 0 1,0 3.2,0a1.6,1.6 0 1,0 -3.2,0M487.2,528.0m-1.6,0a1.6,1.6 0 1,0 3.2,0a1.6,1.6 0 1,0 -3.2,0M480.5,529.0m-1.6,0a1.6,1.6 0 1,0 3.2,0a1.6,1.6 0 1,0 -3.2,0M437.9,469.5m-1.6,0a1.6,1.6 0 1,0 3.2,0a1.6,1.6 0 1,0 -3.2,0M438.8,462.5m-1.6,0a1.6,1.6 0 1,0 3.2,0a1.6,1.6 0 1,0 -3.2,0M440.2,455.5m-1.6,0a1.6,1.6 0 1,0 3.2,0a1.6,1.6 0 1,0 -3.2,0M441.9,448.7m-1.6,0a1.6,1.6 0 1,0 3.2,0a1.6,1.6 0 1,0 -3.2,0M444.1,441.9m-1.6,0a1.6,1.6 0 1,0 3.2,0a1.6,1.6 0 1,0 -3.2,0M446.5,435.3m-1.6,0a1.6,1.6 0 1,0 3.2,0a1.6,1.6 0 1,0 -3.2,0M449.2,428.8m-1.6,0a1.6,1.6 0 1,0 3.2,0a1.6,1.6 0 1,0 -3.2,0M452.3,422.5m-1.6,0a1.6,1.6 0 1,0 3.2,0a1.6,1.6 0 1,0 -3.2,0M455.6,416.3m-1.6,0a1.6,1.6 0 1,0 3.2,0a1.6,1.6 0 1,0 -3.2,0M459.2,410.3m-1.6,0a1.6,1.6 0 1,0 3.2,0a1.6,1.6 0 1,0 -3.2,0M463.0,404.5m-1.6,0a1.6,1.6 0 1,0 3.2,0a1.6,1.6 0 1,0 -3.2,0M467.1,398.8m-1.6,0a1.6,1.6 0 1,0 3.2,0a1.6,1.6 0 1,0 -3.2,0M471.5,393.4m-1.6,0a1.6,1.6 0 1,0 3.2,0a1.6,1.6 0 1,0 -3.2,0M476.0,388.2m-1.6,0a1.6,1.6 0 1,0 3.2,0a1.6,1.6 0 1,0 -3.2,0M480.9,383.2m-1.6,0a1.6,1.6 0 1,0 3.2,0a1.6,1.6 0 1,0 -3.2,0M486.0,378.5m-1.6,0a1.6,1.6 0 1,0 3.2,0a1.6,1.6 0 1,0 -3.2,0M491.3,374.1m-1.6,0a1.6,1.6 0 1,0 3.2,0a1.6,1.6 0 1,0 -3.2,0M496.8,370.0m-1.6,0a1.6,1.6 0 1,0 3.2,0a1.6,1.6 0 1,0 -3.2,0M502.6,366.3m-1.6,0a1.6,1.6 0 1,0 3.2,0a1.6,1.6 0 1,0 -3.2,0M508.7,363.1m-1.6,0a1.6,1.6 0 1,0 3.2,0a1.6,1.6 0 1,0 -3.2,0M515.0,360.4m-1.6,0a1.6,1.6 0 1,0 3.2,0a1.6,1.6 0 1,0 -3.2,0M521.5,358.4m-1.6,0a1.6,1.6 0 1,0 3.2,0a1.6,1.6 0 1,0 -3.2,0M528.2,357.0m-1.6,0a1.6,1.6 0 1,0 3.2,0a1.6,1.6 0 1,0 -3.2,0M535.0,356.6m-1.6,0a1.6,1.6 0 1,0 3.2,0a1.6,1.6 0 1,0 -3.2,0M541.8,357.3m-1.6,0a1.6,1.6 0 1,0 3.2,0a1.6,1.6 0 1,0 -3.2,0M548.4,359.1m-1.6,0a1.6,1.6 0 1,0 3.2,0a1.6,1.6 0 1,0 -3.2,0M560.9,366.0m-1.6,0a1.6,1.6 0 1,0 3.2,0a1.6,1.6 0 1,0 -3.2,0M566.3,370.5m-1.6,0a1.6,1.6 0 1,0 3.2,0a1.6,1.6 0 1,0 -3.2,0M570.7,376.2m-1.6,0a1.6,1.6 0 1,0 3.2,0a1.6,1.6 0 1,0 -3.2,0M574.0,382.6m-1.6,0a1.6,1.6 0 1,0 3.2,0a1.6,1.6 0 1,0 -3.2,0M576.3,389.4m-1.6,0a1.6,1.6 0 1,0 3.2,0a1.6,1.6 0 1,0 -3.2,0M577.7,396.5m-1.6,0a1.6,1.6 0 1,0 3.2,0a1.6,1.6 0 1,0 -3.2,0M578.3,403.7m-1.6,0a1.6,1.6 0 1,0 3.2,0a1.6,1.6 0 1,0 -3.2,0M578.3,410.8m-1.6,0a1.6,1.6 0 1,0 3.2,0a1.6,1.6 0 1,0 -3.2,0M577.8,418.0m-1.6,0a1.6,1.6 0 1,0 3.2,0a1.6,1.6 0 1,0 -3.2,0M576.8,425.0m-1.6,0a1.6,1.6 0 1,0 3.2,0a1.6,1.6 0 1,0 -3.2,0M575.3,432.0m-1.6,0a1.6,1.6 0 1,0 3.2,0a1.6,1.6 0 1,0 -3.2,0M573.5,438.8m-1.6,0a1.6,1.6 0 1,0 3.2,0a1.6,1.6 0 1,0 -3.2,0M571.3,445.5m-1.6,0a1.6,1.6 0 1,0 3.2,0a1.6,1.6 0 1,0 -3.2,0M568.8,452.1m-1.6,0a1.6,1.6 0 1,0 3.2,0a1.6,1.6 0 1,0 -3.2,0M566.0,458.6m-1.6,0a1.6,1.6 0 1,0 3.2,0a1.6,1.6 0 1,0 -3.2,0M562.9,464.9m-1.6,0a1.6,1.6 0 1,0 3.2,0a1.6,1.6 0 1,0 -3.2,0M559.5,471.1m-1.6,0a1.6,1.6 0 1,0 3.2,0a1.6,1.6 0 1,0 -3.2,0M555.9,477.1m-1.6,0a1.6,1.6 0 1,0 3.2,0a1.6,1.6 0 1,0 -3.2,0M552.1,482.9m-1.6,0a1.6,1.6 0 1,0 3.2,0a1.6,1.6 0 1,0 -3.2,0M548.0,488.6m-1.6,0a1.6,1.6 0 1,0 3.2,0a1.6,1.6 0 1,0 -3.2,0M543.7,494.0m-1.6,0a1.6,1.6 0 1,0 3.2,0a1.6,1.6 0 1,0 -3.2,0M539.1,499.2m-1.6,0a1.6,1.6 0 1,0 3.2,0a1.6,1.6 0 1,0 -3.2,0M534.3,504.2m-1.6,0a1.6,1.6 0 1,0 3.2,0a1.6,1.6 0 1,0 -3.2,0M529.2,509.0m-1.6,0a1.6,1.6 0 1,0 3.2,0a1.6,1.6 0 1,0 -3.2,0M523.9,513.4m-1.6,0a1.6,1.6 0 1,0 3.2,0a1.6,1.6 0 1,0 -3.2,0M518.4,517.5m-1.6,0a1.6,1.6 0 1,0 3.2,0a1.6,1.6 0 1,0 -3.2,0M512.6,521.2m-1.6,0a1.6,1.6 0 1,0 3.2,0a1.6,1.6 0 1,0 -3.2,0M506.6,524.5m-1.6,0a1.6,1.6 0 1,0 3.2,0a1.6,1.6 0 1,0 -3.2,0M500.4,527.3m-1.6,0a1.6,1.6 0 1,0 3.2,0a1.6,1.6 0 1,0 -3.2,0M493.9,529.4m-1.6,0a1.6,1.6 0 1,0 3.2,0a1.6,1.6 0 1,0 -3.2,0M487.3,530.8m-1.6,0a1.6,1.6 0 1,0 3.2,0a1.6,1.6 0 1,0 -3.2,0M480.5,531.2m-1.6,0a1.6,1.6 0 1,0 3.2,0a1.6,1.6 0 1,0 -3.2,0M444.7,473.0m-1.6,0a1.6,1.6 0 1,0 3.2,0a1.6,1.6 0 1,0 -3.2,0M445.8,466.0m-1.6,0a1.6,1.6 0 1,0 3.2,0a1.6,1.6 0 1,0 -3.2,0M447.3,459.0m-1.6,0a1.6,1.6 0 1,0 3.2,0a1.6,1.6 0 1,0 -3.2,0M449.1,452.2m-1.6,0a1.6,1.6 0 1,0 3.2,0a1.6,1.6 0 1,0 -3.2,0M451.3,445.5m-1.6,0a1.6,1.6 0 1,0 3.2,0a1.6,1.6 0 1,0 -3.2,0M453.9,438.9m-1.6,0a1.6,1.6 0 1,0 3.2,0a1.6,1.6 0 1,0 -3.2,0M456.7,432.4m-1.6,0a1.6,1.6 0 1,0 3.2,0a1.6,1.6 0 1,0 -3.2,0M459.8,426.1m-1.6,0a1.6,1.6 0 1,0 3.2,0a1.6,1.6 0 1,0 -3.2,0M463.2,420.0m-1.6,0a1.6,1.6 0 1,0 3.2,0a1.6,1.6 0 1,0 -3.2,0M466.8,414.0m-1.6,0a1.6,1.6 0 1,0 3.2,0a1.6,1.6 0 1,0 -3.2,0M470.7,408.2m-1.6,0a1.6,1.6 0 1,0 3.2,0a1.6,1.6 0 1,0 -3.2,0M474.8,402.6m-1.6,0a1.6,1.6 0 1,0 3.2,0a1.6,1.6 0 1,0 -3.2,0M479.1,397.1m-1.6,0a1.6,1.6 0 1,0 3.2,0a1.6,1.6 0 1,0 -3.2,0M483.7,391.9m-1.6,0a1.6,1.6 0 1,0 3.2,0a1.6,1.6 0 1,0 -3.2,0M488.6,386.9m-1.6,0a1.6,1.6 0 1,0 3.2,0a1.6,1.6 0 1,0 -3.2,0M493.6,382.2m-1.6,0a1.6,1.6 0 1,0 3.2,0a1.6,1.6 0 1,0 -3.2,0M498.9,377.8m-1.6,0a1.6,1.6 0 1,0 3.2,0a1.6,1.6 0 1,0 -3.2,0M504.5,373.7m-1.6,0a1.6,1.6 0 1,0 3.2,0a1.6,1.6 0 1,0 -3.2,0M510.3,370.1m-1.6,0a1.6,1.6 0 1,0 3.2,0a1.6,1.6 0 1,0 -3.2,0M516.3,366.8m-1.6,0a1.6,1.6 0 1,0 3.2,0a1.6,1.6 0 1,0 -3.2,0M522.6,364.1m-1.6,0a1.6,1.6 0 1,0 3.2,0a1.6,1.6 0 1,0 -3.2,0M529.0,362.0m-1.6,0a1.6,1.6 0 1,0 3.2,0a1.6,1.6 0 1,0 -3.2,0M535.7,360.7m-1.6,0a1.6,1.6 0 1,0 3.2,0a1.6,1.6 0 1,0 -3.2,0M542.5,360.4m-1.6,0a1.6,1.6 0 1,0 3.2,0a1.6,1.6 0 1,0 -3.2,0M549.3,361.1m-1.6,0a1.6,1.6 0 1,0 3.2,0a1.6,1.6 0 1,0 -3.2,0M555.8,363.2m-1.6,0a1.6,1.6 0 1,0 3.2,0a1.6,1.6 0 1,0 -3.2,0" fill="#111" mask="url(#perfmask)"/>
<path class="k" d="M429.0,492.0 C430.8,493.5 435.9,498.2 440.0,501.0 C444.1,503.8 451.2,507.2 453.5,508.5" style="stroke-width:0.9"/>
<path class="k" d="M433.0,486.0 L435.5,488.0" style="stroke-width:1"/>
<path class="k" d="M454.4,523.0 C451.8,521.5 442.9,517.4 438.8,513.8 C434.6,510.1 432.1,506.9 429.4,501.2 C426.7,495.6 423.9,487.3 422.8,480.0 C421.7,472.7 422.0,463.7 422.5,457.3 C423.0,450.9 423.9,447.8 425.6,441.7 C427.3,435.6 430.1,427.3 432.9,420.8 C435.7,414.3 437.7,409.0 442.4,402.5 C447.1,396.0 454.5,388.6 461.0,381.7 C467.5,374.8 475.0,365.7 481.5,360.8 C488.0,355.9 494.7,354.4 500.0,352.5 C505.3,350.6 508.8,349.9 513.4,349.5 C518.0,349.1 523.1,349.2 527.5,349.8 C531.9,350.4 536.9,351.5 540.0,353.0 C543.1,354.5 545.2,358.0 546.2,359.0" style="stroke-width:1.5"/>
<path class="k" d="M454.4,519.5 C452.8,518.2 448.1,514.7 445.0,511.5 C441.9,508.3 438.4,505.8 435.6,500.5 C432.8,495.2 429.2,486.3 428.0,480.0 C426.8,473.7 427.7,468.0 428.2,462.5 C428.7,457.0 429.3,453.0 430.8,446.9 C432.3,440.8 433.9,433.8 437.0,426.0 C440.1,418.2 444.8,407.3 449.6,400.0 C454.4,392.7 460.2,387.7 466.0,382.0 C471.8,376.3 478.9,370.0 484.6,366.0 C490.3,362.0 495.2,359.8 500.0,358.0 C504.8,356.2 508.8,355.6 513.4,355.2 C518.0,354.8 523.4,354.9 527.5,355.5 C531.6,356.1 535.1,357.2 538.0,358.5 C540.9,359.8 543.8,362.2 545.0,363.0" style="stroke-width:1.2"/>
<path class="k" d="M454.4,521.2 C452.3,519.8 445.5,516.0 441.9,512.6 C438.2,509.2 435.2,506.3 432.5,500.9 C429.8,495.4 426.6,486.8 425.4,480.0 C424.2,473.2 424.9,465.8 425.4,459.9 C425.8,453.9 426.6,450.4 428.2,444.3 C429.8,438.2 432.0,430.6 434.9,423.4 C437.9,416.2 441.2,408.2 446.0,401.2 C450.8,394.3 457.3,388.2 463.5,381.9 C469.7,375.5 477.0,367.8 483.1,363.4 C489.1,359.0 494.9,357.1 500.0,355.2 C505.1,353.4 508.8,352.8 513.4,352.4 C518.0,351.9 523.2,352.1 527.5,352.6 C531.8,353.2 536.0,354.4 539.0,355.8 C542.0,357.1 544.5,360.1 545.6,361.0" style="stroke-width:0.5"/>
<ellipse class="kw" cx="459.5" cy="378" rx="2.9" ry="2.6" transform="rotate(0 459.5 378)" style="stroke-width:1.3"/>
<ellipse class="k" cx="460.0" cy="378.4" rx="1.2" ry="1.0" transform="rotate(0 460.0 378.4)" style="stroke-width:0.7"/>
<ellipse class="kw" cx="478" cy="361.5" rx="2.9" ry="2.6" transform="rotate(0 478 361.5)" style="stroke-width:1.3"/>
<ellipse class="k" cx="478.5" cy="361.9" rx="1.2" ry="1.0" transform="rotate(0 478.5 361.9)" style="stroke-width:0.7"/>
<ellipse class="kw" cx="500" cy="349.5" rx="2.9" ry="2.6" transform="rotate(0 500 349.5)" style="stroke-width:1.3"/>
<ellipse class="k" cx="500.5" cy="349.9" rx="1.2" ry="1.0" transform="rotate(0 500.5 349.9)" style="stroke-width:0.7"/>
<ellipse class="kw" cx="517.3" cy="346" rx="2.9" ry="2.6" transform="rotate(0 517.3 346)" style="stroke-width:1.3"/>
<ellipse class="k" cx="517.8" cy="346.4" rx="1.2" ry="1.0" transform="rotate(0 517.8 346.4)" style="stroke-width:0.7"/>
<ellipse class="kw" cx="540" cy="351" rx="2.9" ry="2.6" transform="rotate(0 540 351)" style="stroke-width:1.3"/>
<ellipse class="k" cx="540.5" cy="351.4" rx="1.2" ry="1.0" transform="rotate(0 540.5 351.4)" style="stroke-width:0.7"/>
<ellipse class="kw" cx="438.5" cy="406.5" rx="2.9" ry="2.6" transform="rotate(0 438.5 406.5)" style="stroke-width:1.3"/>
<ellipse class="k" cx="439.0" cy="406.9" rx="1.2" ry="1.0" transform="rotate(0 439.0 406.9)" style="stroke-width:0.7"/>
<ellipse class="kw" cx="424" cy="440.5" rx="2.9" ry="2.6" transform="rotate(0 424 440.5)" style="stroke-width:1.3"/>
<ellipse class="k" cx="424.5" cy="440.9" rx="1.2" ry="1.0" transform="rotate(0 424.5 440.9)" style="stroke-width:0.7"/>
<ellipse class="kw" cx="515.8" cy="448.2" rx="93.8" ry="52.7" transform="rotate(-58.8 515.8 448.2)" style="stroke-width:1.2"/>
<path class="kt" d="M496.3,531.3 C495.6,531.5 493.7,532.0 492.4,532.2 C491.1,532.4 489.8,532.6 488.6,532.7 C487.3,532.9 486.1,532.9 484.9,532.9 C483.7,533.0 482.5,532.9 481.3,532.8 C480.2,532.7 479.0,532.6 477.9,532.4 C476.8,532.2 475.7,531.9 474.6,531.6 C473.5,531.3 472.5,531.0 471.5,530.6 C470.4,530.1 469.4,529.7 468.5,529.2 C467.5,528.6 466.6,528.1 465.7,527.5 C464.8,526.8 463.9,526.2 463.1,525.4 C462.3,524.7 461.5,524.0 460.7,523.1 C460.0,522.3 459.2,521.5 458.5,520.5 C457.9,519.6 457.2,518.7 456.6,517.7 C456.0,516.7 455.4,515.6 454.9,514.5 C454.3,513.4 453.8,512.3 453.4,511.1 C452.9,510.0 452.5,508.8 452.1,507.5 C451.7,506.3 451.4,505.0 451.1,503.6 C450.8,502.3 450.5,501.0 450.3,499.6 C450.1,498.2 449.9,496.7 449.8,495.3 C449.7,493.8 449.6,492.4 449.6,490.8 C449.5,489.3 449.5,487.8 449.5,486.2 C449.6,484.7 449.7,483.1 449.8,481.5 C449.9,479.9 450.1,478.2 450.3,476.6 C450.5,474.9 450.8,473.3 451.1,471.6 C451.3,469.9 451.7,468.2 452.1,466.5 C452.4,464.8 452.8,463.1 453.3,461.3 C453.8,459.6 454.3,457.9 454.8,456.1 C455.3,454.4 455.9,452.6 456.5,450.9 C457.1,449.1 457.8,447.4 458.5,445.6 C459.1,443.9 459.9,442.1 460.6,440.4 C461.4,438.6 462.2,436.9 463.0,435.2 C463.8,433.4 464.7,431.7 465.6,430.0 C466.5,428.3 467.4,426.6 468.4,424.9 C469.3,423.2 470.3,421.6 471.3,419.9 C472.3,418.3 473.4,416.6 474.4,415.0 C475.5,413.4 476.6,411.8 477.7,410.3 C478.9,408.7 480.0,407.2 481.2,405.6 C482.3,404.1 483.5,402.6 484.7,401.2 C485.9,399.7 487.2,398.3 488.4,396.9 C489.7,395.5 491.6,393.5 492.2,392.8" style="stroke-width:2.3"/>
<ellipse class="k" cx="515.8" cy="448.2" rx="90.3" ry="49.5" transform="rotate(-58.8 515.8 448.2)" style="stroke-width:0.9"/>
<path class="k" d="M496.5,527.9 C495.9,528.1 494.1,528.5 493.0,528.7 C491.8,529.0 490.7,529.2 489.5,529.3 C488.4,529.4 487.3,529.5 486.2,529.6 C485.1,529.6 484.0,529.6 483.0,529.5 C481.9,529.5 480.9,529.4 479.9,529.2 C478.8,529.1 477.8,528.9 476.9,528.7 C475.9,528.4 474.9,528.1 474.0,527.8 C473.1,527.5 472.2,527.1 471.3,526.7 C470.4,526.3 469.6,525.8 468.7,525.3 C467.9,524.8 467.1,524.2 466.4,523.6 C465.6,523.0 464.8,522.3 464.1,521.7 C463.4,521.0 462.7,520.2 462.1,519.5 C461.4,518.7 460.8,517.9 460.2,517.0 C459.6,516.2 459.1,515.3 458.6,514.4 C458.0,513.4 457.6,512.5 457.1,511.5 C456.7,510.5 456.2,509.4 455.8,508.3 C455.5,507.3 455.1,506.1 454.8,505.0 C454.5,503.9 454.2,502.7 454.0,501.5 C453.7,500.3 453.5,499.0 453.3,497.8 C453.2,496.5 453.0,495.2 452.9,493.9 C452.8,492.5 452.7,491.2 452.7,489.8 C452.7,488.5 452.7,487.1 452.7,485.6 C452.8,484.2 452.9,482.8 453.0,481.3 C453.1,479.9 453.3,478.4 453.5,476.9 C453.6,475.4 453.9,473.9 454.1,472.3 C454.4,470.8 454.7,469.3 455.0,467.7 C455.4,466.2 455.7,464.6 456.1,463.0 C456.5,461.5 457.0,459.9 457.4,458.3 C457.9,456.7 458.4,455.1 459.0,453.5 C459.5,451.9 460.1,450.3 460.7,448.7 C461.3,447.1 461.9,445.5 462.6,444.0 C463.2,442.4 463.9,440.8 464.7,439.2 C465.4,437.6 466.1,436.0 466.9,434.4 C467.7,432.9 468.5,431.3 469.4,429.7 C470.2,428.2 471.1,426.6 472.0,425.1 C472.8,423.6 473.8,422.0 474.7,420.5 C475.6,419.0 476.6,417.6 477.6,416.1 C478.6,414.6 479.6,413.2 480.6,411.7 C481.6,410.3 482.7,408.9 483.8,407.5 C484.8,406.1 486.5,404.1 487.0,403.4" style="stroke-width:1.6"/>
<path class="k" d="M509.7,514.9 C508.9,515.4 506.5,516.8 504.9,517.6 C503.3,518.4 501.8,519.1 500.2,519.7 C498.6,520.4 497.1,520.9 495.5,521.4 C494.0,521.9 492.5,522.2 491.0,522.5 C489.5,522.8 488.0,523.1 486.6,523.2 C485.2,523.3 483.8,523.3 482.4,523.3 C481.1,523.3 479.7,523.1 478.4,522.9 C477.2,522.7 475.9,522.4 474.7,522.0 C473.5,521.6 472.3,521.1 471.2,520.5 C470.1,520.0 469.1,519.3 468.0,518.6 C467.0,517.9 466.1,517.1 465.2,516.2 C464.3,515.3 463.4,514.3 462.6,513.3 C461.8,512.3 461.1,511.1 460.4,509.9 C459.8,508.8 459.2,507.5 458.6,506.2 C458.1,504.8 457.6,503.4 457.1,502.0 C456.7,500.5 456.4,499.0 456.1,497.4 C455.8,495.9 455.6,494.2 455.4,492.5 C455.2,490.8 455.1,489.1 455.1,487.3 C455.1,485.5 455.1,483.7 455.2,481.8 C455.4,480.0 455.5,478.1 455.8,476.1 C456.0,474.2 456.3,472.2 456.7,470.2 C457.0,468.2 457.5,466.2 458.0,464.1 C458.5,462.1 459.0,460.0 459.7,457.9 C460.3,455.8 461.0,453.7 461.7,451.6 C462.5,449.6 463.3,447.4 464.1,445.3 C465.0,443.2 465.9,441.1 466.9,439.1 C467.8,437.0 468.9,434.9 469.9,432.8 C471.0,430.8 472.1,428.7 473.3,426.7 C474.5,424.7 475.7,422.7 476.9,420.7 C478.2,418.7 479.5,416.8 480.8,414.9 C482.2,413.0 483.5,411.1 484.9,409.3 C486.3,407.5 487.8,405.7 489.2,403.9 C490.7,402.2 492.2,400.5 493.7,398.9 C495.2,397.3 496.8,395.7 498.3,394.2 C499.9,392.7 501.5,391.2 503.0,389.8 C504.6,388.5 506.2,387.1 507.8,385.9 C509.4,384.6 511.0,383.5 512.7,382.4 C514.3,381.2 515.9,380.2 517.5,379.3 C519.1,378.3 520.7,377.4 522.3,376.6 C523.9,375.8 525.5,375.1 527.0,374.5 C528.6,373.8 530.2,373.3 531.7,372.8 C533.2,372.4 534.7,372.0 536.2,371.7 C537.7,371.4 539.2,371.2 540.6,371.1 C542.0,370.9 543.4,370.9 544.8,370.9 C546.1,371.0 547.5,371.1 548.8,371.4 C550.0,371.6 551.3,371.9 552.5,372.3 C553.7,372.7 554.8,373.2 556.0,373.7 C557.1,374.3 558.1,375.0 559.1,375.7 C560.1,376.4 561.1,377.2 562.0,378.1 C562.9,379.0 564.1,380.5 564.5,381.0" style="stroke-width:0.8"/>
<path class="k" d="M506.6,506.6 C506.1,506.9 504.6,507.8 503.6,508.4 C502.6,508.9 501.7,509.5 500.7,510.0 C499.7,510.4 498.8,510.9 497.8,511.3 C496.9,511.7 495.9,512.1 495.0,512.4 C494.0,512.8 493.1,513.1 492.2,513.3 C491.3,513.6 490.4,513.8 489.5,514.0 C488.6,514.2 487.7,514.4 486.8,514.5 C486.0,514.6 485.1,514.7 484.3,514.7 C483.4,514.8 482.6,514.8 481.8,514.8 C481.0,514.7 480.2,514.6 479.4,514.5 C478.7,514.4 477.9,514.3 477.2,514.1 C476.4,513.9 475.7,513.7 475.0,513.4 C474.3,513.2 473.6,512.9 473.0,512.5 C472.3,512.2 471.7,511.8 471.1,511.4 C470.5,511.0 469.9,510.6 469.3,510.1 C468.8,509.6 468.2,509.1 467.7,508.6 C467.2,508.0 466.7,507.4 466.2,506.8 C465.7,506.2 465.3,505.5 464.9,504.9 C464.5,504.2 464.1,503.5 463.7,502.7 C463.3,502.0 463.0,501.2 462.7,500.4 C462.4,499.6 462.1,498.7 461.8,497.9 C461.6,497.0 461.3,496.1 461.1,495.2 C460.9,494.3 460.8,493.3 460.6,492.4 C460.5,491.4 460.3,490.4 460.3,489.4 C460.2,488.3 460.1,487.3 460.1,486.2 C460.0,485.1 460.0,484.1 460.1,482.9 C460.1,481.8 460.1,480.7 460.2,479.5 C460.3,478.4 460.4,477.2 460.5,476.0 C460.7,474.9 460.8,473.7 461.0,472.4 C461.2,471.2 461.4,470.0 461.7,468.7 C461.9,467.5 462.2,466.2 462.5,465.0 C462.8,463.7 463.2,462.4 463.5,461.1 C463.9,459.9 464.3,458.6 464.7,457.3 C465.1,456.0 465.5,454.7 466.0,453.4 C466.4,452.0 466.9,450.7 467.4,449.4 C467.9,448.1 468.5,446.8 469.0,445.5 C469.6,444.1 470.2,442.8 470.8,441.5 C471.4,440.2 472.0,438.9 472.7,437.6 C473.3,436.3 474.0,435.0 474.7,433.7 C475.4,432.4 476.1,431.1 476.8,429.8 C477.5,428.5 478.3,427.3 479.0,426.0 C479.8,424.7 480.6,423.5 481.4,422.3 C482.2,421.0 483.0,419.8 483.8,418.6 C484.7,417.4 485.5,416.2 486.4,415.0 C487.3,413.9 488.1,412.7 489.0,411.6 C489.9,410.4 490.8,409.3 491.7,408.2 C492.6,407.1 493.6,406.0 494.5,405.0 C495.4,403.9 496.4,402.9 497.3,401.9 C498.3,400.9 499.2,399.9 500.2,398.9 C501.2,398.0 502.6,396.6 503.1,396.2" style="stroke-width:0.8"/>
<path class="k" d="M503.4,498.3 C502.9,498.6 501.7,499.5 500.8,500.0 C500.0,500.5 499.2,501.0 498.3,501.4 C497.5,501.9 496.7,502.3 495.9,502.7 C495.0,503.1 494.2,503.5 493.4,503.8 C492.6,504.1 491.8,504.4 491.1,504.7 C490.3,505.0 489.5,505.2 488.8,505.4 C488.0,505.6 487.2,505.7 486.5,505.9 C485.8,506.0 485.1,506.1 484.4,506.2 C483.6,506.2 482.9,506.3 482.3,506.3 C481.6,506.3 480.9,506.2 480.3,506.2 C479.6,506.1 479.0,506.0 478.4,505.8 C477.8,505.7 477.2,505.5 476.6,505.3 C476.0,505.1 475.5,504.9 474.9,504.6 C474.4,504.3 473.9,504.0 473.4,503.7 C472.9,503.4 472.4,503.0 471.9,502.6 C471.4,502.2 471.0,501.8 470.6,501.3 C470.2,500.8 469.8,500.3 469.4,499.8 C469.0,499.3 468.7,498.7 468.3,498.1 C468.0,497.6 467.7,497.0 467.4,496.3 C467.1,495.7 466.9,495.0 466.6,494.3 C466.4,493.6 466.2,492.9 466.0,492.1 C465.8,491.4 465.6,490.6 465.5,489.8 C465.4,489.0 465.2,488.2 465.2,487.3 C465.1,486.5 465.0,485.6 465.0,484.7 C464.9,483.8 464.9,482.9 464.9,482.0 C464.9,481.0 464.9,480.1 465.0,479.1 C465.0,478.1 465.1,477.1 465.2,476.1 C465.3,475.1 465.5,474.1 465.6,473.0 C465.8,472.0 466.0,470.9 466.2,469.9 C466.4,468.8 466.6,467.7 466.8,466.6 C467.1,465.5 467.4,464.4 467.7,463.3 C468.0,462.2 468.3,461.0 468.6,459.9 C469.0,458.8 469.3,457.6 469.7,456.5 C470.1,455.3 470.5,454.1 470.9,453.0 C471.4,451.8 471.8,450.7 472.3,449.5 C472.8,448.3 473.3,447.1 473.8,446.0 C474.3,444.8 474.8,443.6 475.4,442.5 C475.9,441.3 476.5,440.1 477.1,439.0 C477.7,437.8 478.3,436.6 478.9,435.5 C479.5,434.3 480.2,433.2 480.8,432.0 C481.5,430.9 482.1,429.7 482.8,428.6 C483.5,427.5 484.2,426.4 484.9,425.2 C485.7,424.1 486.4,423.0 487.1,422.0 C487.9,420.9 488.6,419.8 489.4,418.7 C490.1,417.7 490.9,416.6 491.7,415.6 C492.5,414.6 493.3,413.6 494.1,412.6 C494.9,411.6 495.7,410.6 496.5,409.7 C497.4,408.7 498.2,407.8 499.0,406.9 C499.8,406.0 500.7,405.1 501.5,404.2 C502.4,403.3 503.6,402.1 504.1,401.7" style="stroke-width:0.7"/>
<path class="kw" d="M466.0,447.0 L470.0,443.0 L484.0,448.0 L482.0,455.0 L468.0,456.0 Z" style="stroke-width:0.9"/>
<path class="kw" d="M468.0,506.0 L482.0,501.0 L486.0,505.0 L478.0,514.0 L470.0,513.0 Z" style="stroke-width:0.9"/>
<path class="kw" d="M511.0,384.0 L514.0,381.0 L519.0,388.0 L518.0,395.0 Z" style="stroke-width:0.9"/>
</g>
<!-- front -->
<g id="front">
<ellipse class="" cx="558" cy="463.7" rx="88.9" ry="45.9" transform="rotate(-57 558 463.7)" fill="#fff" stroke="none"/>
<ellipse class="" cx="606.6" cy="498.5" rx="94.4" ry="54.4" transform="rotate(-60.3 606.6 498.5)" fill="#fff" stroke="none"/>
<path d="M609.4,390.8 L669.0,436.0 L700.0,470.0 L640.0,590.0 L571.4,583.7 L527.0,563.7 L503.4,545.0 L494.0,517.0 L499.7,482.5 L514.0,448.0 L534.8,420.0 L560.0,395.8 L590.0,385.8 Z" fill="#fff" stroke="none"/>
<path class="k" d="M541.0,406.5 C539.2,407.9 533.8,411.4 530.0,415.0 C526.2,418.6 521.8,423.3 518.0,428.0 C514.2,432.7 510.2,438.0 507.0,443.0 C503.8,448.0 501.3,453.2 499.0,458.0 C496.7,462.8 494.3,468.1 493.0,472.0 C491.7,475.9 491.2,478.3 491.0,481.6 C490.8,484.9 491.5,488.9 492.0,492.0 C492.5,495.1 493.7,498.7 494.0,500.0" style="stroke-width:0.9"/>
<path class="k" d="M543.0,408.5 C541.2,409.9 535.8,413.4 532.0,417.0 C528.2,420.6 523.8,425.3 520.0,430.0 C516.2,434.7 512.5,440.0 509.5,445.0 C506.5,450.0 504.2,455.2 502.0,460.0 C499.8,464.8 497.8,470.2 496.5,474.0 C495.2,477.8 494.8,481.5 494.5,483.0" style="stroke-width:0.6"/>
<circle cx="517.8" cy="428.4" r="1.3" fill="#111"/>
<circle cx="508.4" cy="443.3" r="1.3" fill="#111"/>
<circle cx="502" cy="453.4" r="1.3" fill="#111"/>
<circle cx="498.3" cy="459" r="1.3" fill="#111"/>
<circle cx="499" cy="466" r="1.3" fill="#111"/>
<circle cx="496" cy="470.6" r="1.3" fill="#111"/>
<circle cx="494.5" cy="478" r="1.3" fill="#111"/>
<circle cx="526" cy="420" r="1.3" fill="#111"/>
<circle cx="532" cy="414.5" r="1.3" fill="#111"/>
<rect x="513.1" y="432.8" width="3.2" height="2.4" fill="none" stroke="#111" stroke-width="0.7"/>
<rect x="503.7" y="444.40000000000003" width="3.2" height="2.4" fill="none" stroke="#111" stroke-width="0.7"/>
<rect x="508.9" y="437.8" width="3.2" height="2.4" fill="none" stroke="#111" stroke-width="0.7"/>
<path class="kt" d="M496.5,498.0 C497.0,495.4 498.3,488.3 499.7,482.5 C501.1,476.7 502.7,468.8 505.0,463.0 C507.3,457.2 510.8,453.0 513.8,448.0 C516.8,443.0 519.5,437.7 523.0,433.0 C526.5,428.3 530.0,425.2 534.8,420.0 C539.5,414.8 547.3,406.0 551.5,402.0 C555.7,398.0 556.2,397.9 560.0,395.8 C563.8,393.7 569.3,391.0 574.3,389.3 C579.3,387.6 584.1,385.6 590.0,385.8 C595.9,386.1 606.2,390.0 609.4,390.8" style="stroke-width:2.2"/>
<ellipse class="kw" cx="499.7" cy="482.5" rx="2.8" ry="2.5" transform="rotate(0 499.7 482.5)" style="stroke-width:1.2"/>
<ellipse class="k" cx="500.09999999999997" cy="482.9" rx="1.3" ry="1.1" transform="rotate(0 500.09999999999997 482.9)" style="stroke-width:0.7"/>
<ellipse class="kw" cx="513.75" cy="448" rx="2.8" ry="2.5" transform="rotate(0 513.75 448)" style="stroke-width:1.2"/>
<ellipse class="k" cx="514.15" cy="448.4" rx="1.3" ry="1.1" transform="rotate(0 514.15 448.4)" style="stroke-width:0.7"/>
<ellipse class="kw" cx="534.8" cy="420" rx="2.8" ry="2.5" transform="rotate(0 534.8 420)" style="stroke-width:1.2"/>
<ellipse class="k" cx="535.1999999999999" cy="420.4" rx="1.3" ry="1.1" transform="rotate(0 535.1999999999999 420.4)" style="stroke-width:0.7"/>
<ellipse class="kw" cx="551.5" cy="402" rx="2.8" ry="2.5" transform="rotate(0 551.5 402)" style="stroke-width:1.2"/>
<ellipse class="k" cx="551.9" cy="402.4" rx="1.3" ry="1.1" transform="rotate(0 551.9 402.4)" style="stroke-width:0.7"/>
<ellipse class="kw" cx="574.3" cy="389.3" rx="2.8" ry="2.5" transform="rotate(0 574.3 389.3)" style="stroke-width:1.2"/>
<ellipse class="k" cx="574.6999999999999" cy="389.7" rx="1.3" ry="1.1" transform="rotate(0 574.6999999999999 389.7)" style="stroke-width:0.7"/>
<ellipse class="kw" cx="590" cy="385.8" rx="2.8" ry="2.5" transform="rotate(0 590 385.8)" style="stroke-width:1.2"/>
<ellipse class="k" cx="590.4" cy="386.2" rx="1.3" ry="1.1" transform="rotate(0 590.4 386.2)" style="stroke-width:0.7"/>
<ellipse class="kw" cx="609.4" cy="390.8" rx="2.8" ry="2.5" transform="rotate(0 609.4 390.8)" style="stroke-width:1.2"/>
<ellipse class="k" cx="609.8" cy="391.2" rx="1.3" ry="1.1" transform="rotate(0 609.8 391.2)" style="stroke-width:0.7"/>
<path class="k" d="M611.0,392.5 C613.8,394.1 622.7,398.8 628.0,402.0 C633.3,405.2 638.1,408.2 643.0,411.5 C647.9,414.8 653.6,418.2 657.4,421.6 C661.2,425.0 664.1,429.2 666.0,431.6 C667.9,434.0 668.5,435.3 669.0,436.0" style="stroke-width:1.3"/>
<path class="kt" d="M496.5,498.0 C496.2,500.6 495.0,508.4 495.0,513.8 C495.0,519.1 495.1,524.8 496.5,530.0 C497.9,535.2 500.3,540.8 503.4,545.0 C506.5,549.2 511.1,552.4 515.0,555.5 C518.9,558.6 521.2,560.4 527.0,563.7 C532.8,567.0 542.6,572.2 550.0,575.5 C557.4,578.8 567.8,582.3 571.4,583.7" style="stroke-width:2"/>
<path class="kt" d="M574.3,447.4 C576.7,445.0 583.9,436.8 588.7,433.0 C593.5,429.2 597.8,427.3 603.0,424.4 C608.2,421.5 615.0,417.7 620.2,415.8 C625.5,413.9 630.2,413.2 634.5,413.0 C638.8,412.8 642.2,413.4 646.0,414.4 C649.8,415.3 654.1,416.5 657.4,418.7 C660.7,420.9 664.1,424.4 666.0,427.3 C667.9,430.2 668.5,434.6 669.0,436.0" style="stroke-width:2"/>
<path class="k" d="M574.3,447.4 C574.7,447.6 577.0,447.4 576.7,448.8 C576.5,450.2 574.8,452.5 572.8,455.6 C570.8,458.7 567.6,462.8 565.0,467.4 C562.4,472.0 559.8,477.1 557.2,483.0 C554.6,488.9 551.3,496.7 549.3,502.6 C547.3,508.5 546.4,513.6 545.4,518.2 C544.4,522.8 543.8,527.7 543.5,530.0 C543.2,532.3 543.5,531.7 543.5,532.0" style="stroke-width:1.4"/>
<path class="k" d="M543.5,532.0 L538.6,533.9" style="stroke-width:1.2"/>
<path class="k" d="M538.6,533.9 C538.6,535.5 538.1,540.0 538.6,543.6 C539.1,547.2 540.0,551.5 541.5,555.4 C543.0,559.3 545.1,563.5 547.4,567.1 C549.7,570.7 552.3,574.4 555.2,577.0 C558.1,579.6 562.1,581.4 565.0,582.7 C567.9,584.0 571.5,584.4 572.8,584.7" style="stroke-width:1.4"/>
<path class="k" d="M562.0,470.3 L563.2,469.5" style="stroke-width:1"/>
<path class="k" d="M549.3,492.8 L550.5,492.0" style="stroke-width:1"/>
<path class="k" d="M543.5,513.3 L544.7,512.5" style="stroke-width:1"/>
<path class="k" d="M582.6,457.6 C584.2,455.7 588.1,449.5 592.0,446.0 C595.9,442.5 601.3,439.0 606.0,436.5 C610.7,434.0 615.2,432.3 620.0,431.0 C624.8,429.7 629.7,428.6 634.5,428.7 C639.3,428.8 644.5,429.9 648.8,431.5 C653.0,433.1 658.1,436.9 660.0,438.0" style="stroke-width:0.8"/>
<path class="k" d="M582.6,457.6 C580.3,460.5 572.8,468.4 568.9,475.2 C565.0,482.0 561.3,490.9 559.0,498.7 C556.7,506.5 555.2,514.8 555.2,522.0 C555.2,529.2 557.0,536.1 559.0,541.7 C561.0,547.3 564.4,551.5 567.0,555.4 C569.6,559.3 573.5,563.6 574.8,565.2" style="stroke-width:0.8"/>
<path class="k" d="M610.0,447.0 C607.2,448.7 596.9,454.6 593.0,457.0 C589.1,459.4 589.5,457.8 586.5,461.5 C583.5,465.2 578.0,472.8 574.8,479.0 C571.5,485.2 568.8,492.2 567.0,498.7 C565.2,505.2 564.2,512.3 564.0,518.2 C563.8,524.1 564.5,528.7 566.0,533.9 C567.5,539.1 571.7,546.9 572.8,549.5" style="stroke-width:0.8"/>
<path class="k" d="M621.5,454.3 C618.4,455.5 608.2,458.6 603.0,461.5 C597.8,464.4 593.5,467.9 590.0,472.0 C586.5,476.1 584.3,480.8 582.0,486.0 C579.7,491.2 577.4,497.7 576.0,503.0 C574.6,508.3 573.9,513.5 573.5,518.0 C573.1,522.5 573.2,526.8 573.5,530.0 C573.8,533.2 574.8,535.8 575.0,537.0" style="stroke-width:1.9"/>
<path class="k" d="M623.0,457.0 C620.0,458.2 610.0,461.2 605.0,464.0 C600.0,466.8 596.3,470.0 593.0,474.0 C589.7,478.0 587.3,483.0 585.0,488.0 C582.7,493.0 580.4,499.0 579.0,504.0 C577.6,509.0 576.9,513.7 576.5,518.0 C576.1,522.3 576.5,528.0 576.5,530.0" style="stroke-width:0.7"/>
</g>
<!-- seal -->
<g id="seal">
<path d="M600.0,480.0 L615.0,453.0 L645.0,441.0 L675.0,438.0 L696.0,444.0 L708.0,459.0 L712.0,480.0 L711.0,498.0 L700.0,560.0 L660.0,600.0 L645.3,610.8 L643.8,619.8 L611.0,639.3 L599.0,633.3 L578.0,623.0 L577.2,620.0 L578.7,606.0 L578.0,593.0 L576.5,587.0 L573.5,581.0 L573.5,541.0 L578.0,537.0 L581.5,516.0 L586.0,502.0 L594.3,487.2 Z" fill="#fff" stroke="none"/>
<path class="k" d="M593.0,465.8 C595.0,464.3 601.3,459.3 605.0,457.0 C608.7,454.7 611.0,453.6 615.0,452.0 C619.0,450.4 623.7,449.0 628.7,447.2 C633.7,445.4 639.8,442.5 645.0,441.0 C650.2,439.5 655.0,438.7 660.0,438.2 C665.0,437.7 670.3,437.6 675.0,438.0 C679.7,438.4 684.5,439.5 688.0,440.5 C691.5,441.5 693.5,442.4 696.0,444.0 C698.5,445.6 701.0,447.5 703.0,450.0 C705.0,452.5 707.2,457.5 708.0,459.0" style="stroke-width:1.0"/>
<path class="k" d="M595.8,473.0 C598.2,471.4 605.6,466.0 610.0,463.5 C614.4,461.0 617.9,459.5 622.0,458.0 C626.1,456.5 630.1,455.6 634.4,454.3 C638.7,453.1 643.4,451.5 648.0,450.5 C652.6,449.5 657.3,448.8 662.0,448.5 C666.7,448.2 672.0,448.1 676.0,448.5 C680.0,448.9 684.3,450.6 686.0,451.0" style="stroke-width:1.0"/>
<path class="k" d="M614.4,478.6 C616.5,477.2 622.7,472.6 627.0,470.0 C631.3,467.4 635.3,464.8 640.0,463.0 C644.7,461.2 650.0,459.9 655.0,459.0 C660.0,458.1 665.8,457.4 670.0,457.5 C674.2,457.6 677.3,458.4 680.0,459.5 C682.7,460.6 684.3,461.9 686.0,464.0 C687.7,466.1 689.0,469.0 690.0,472.0 C691.0,475.0 691.7,480.3 692.0,482.0" style="stroke-width:1.0"/>
<path class="k" d="M627.0,447.8 L631.0,455.5 L633.0,462.0" style="stroke-width:1.0"/>
<path class="k" d="M648.0,441.0 L652.0,450.0" style="stroke-width:1.0"/>
<path class="k" d="M680.0,441.5 C680.8,442.5 683.5,445.2 684.5,447.5 C685.5,449.8 686.0,452.6 686.0,455.0 C686.0,457.4 684.2,459.8 684.5,462.0 C684.8,464.2 685.9,466.3 688.0,468.0 C690.1,469.7 694.2,471.5 697.0,472.0 C699.8,472.5 702.9,472.0 705.0,471.0 C707.1,470.0 709.0,468.0 709.5,466.0 C710.0,464.0 708.2,460.2 708.0,459.0" style="stroke-width:1.0"/>
<path class="k" d="M684.5,447.5 L691.0,445.5 L698.0,448.0" style="stroke-width:1.0"/>
<ellipse class="k" cx="692.5" cy="458.3" rx="2.6" ry="3.8" transform="rotate(20 692.5 458.3)" style="stroke-width:1.4"/>
<ellipse class="k" cx="695.6" cy="459.6" rx="2.6" ry="3.7" transform="rotate(20 695.6 459.6)" style="stroke-width:0.8"/>
<path class="k" d="M705.0,471.0 L707.0,480.0 L704.0,487.0 L700.0,490.0" style="stroke-width:1.0"/>
<path class="k" d="M598.6,480.0 L610.0,479.4 L617.2,479.4 L621.5,484.4 L621.5,504.4 L617.2,511.5 L611.5,517.3 L608.6,518.7" style="stroke-width:1.0"/>
<path class="k" d="M610.0,479.4 L613.0,484.0 L613.0,512.0" style="stroke-width:1.0"/>
<ellipse class="k" cx="615.8" cy="500.1" rx="2.6" ry="3.9" transform="rotate(15 615.8 500.1)" style="stroke-width:1.5"/>
<ellipse class="k" cx="616.3" cy="500.4" rx="1.3" ry="2.2" transform="rotate(15 616.3 500.4)" style="stroke-width:0.7"/>
<path class="k" d="M598.6,480.0 L594.3,487.2" style="stroke-width:1.0"/>
<path class="k" d="M594.3,487.2 C592.9,489.7 588.1,497.2 586.0,502.0 C583.9,506.8 582.2,509.5 581.5,515.8 C580.8,522.1 581.3,532.6 581.5,540.0 C581.7,547.4 581.7,553.2 582.5,560.0 C583.3,566.8 585.6,577.5 586.2,581.0" style="stroke-width:1.0"/>
<path class="k" d="M590.0,487.2 C588.8,489.3 584.7,495.7 583.0,500.0 C581.3,504.3 580.8,508.0 580.0,513.0 C579.2,518.0 578.8,522.2 578.5,530.0 C578.2,537.8 578.2,551.7 578.5,560.0 C578.8,568.3 579.8,576.7 580.0,580.0" style="stroke-width:1.0"/>
<path class="k" d="M580.0,514.4 L594.3,521.6 L610.0,518.7" style="stroke-width:1.0"/>
<path class="k" d="M599.0,519.0 L603.0,515.0 L610.0,516.0" style="stroke-width:1.0"/>
<path class="k" d="M588.6,527.3 C588.7,528.6 588.4,533.0 589.0,535.0 C589.6,537.0 590.8,539.0 592.0,539.0 C593.2,539.0 595.4,536.5 596.0,535.0 C596.6,533.5 595.8,530.8 595.8,530.0" style="stroke-width:1.0"/>
<path class="k" d="M588.0,520.0 L588.0,566.0" style="stroke-width:1.0"/>
<path class="k" d="M596.0,522.0 L597.0,545.0" style="stroke-width:1.0"/>
<path class="k" d="M573.5,530.0 L573.5,581.0 L576.5,587.0 L578.0,593.0 L578.7,606.0 L577.2,620.0 L578.0,623.0 L599.0,633.3 L611.0,639.3 L643.8,619.8 L645.3,610.8" style="stroke-width:1.0"/>
<path class="k" d="M576.5,587.0 L588.0,590.0 L599.0,612.3 L617.0,603.4" style="stroke-width:1.0"/>
<path class="k" d="M599.0,612.3 L599.0,633.3" style="stroke-width:1.0"/>
<path class="k" d="M586.2,590.0 L585.5,628.0" style="stroke-width:1.0"/>
<path class="k" d="M577.0,596.0 L585.0,597.0 L588.0,604.0 L592.0,606.0 L596.0,604.0" style="stroke-width:1.0"/>
<path class="k" d="M578.0,606.0 L588.0,609.0 L594.0,612.0" style="stroke-width:1.0"/>
<path class="k" d="M587.0,579.4 L600.4,575.0 L603.0,573.0" style="stroke-width:1.0"/>
<path class="k" d="M600.0,603.0 C600.1,601.5 599.8,596.4 600.5,594.0 C601.2,591.6 602.6,589.3 604.0,588.5 C605.4,587.7 607.7,588.1 609.0,589.0 C610.3,589.9 611.7,592.0 612.0,594.0 C612.3,596.0 611.2,599.8 611.0,601.0" style="stroke-width:1.0"/>
<ellipse class="k" cx="606.4" cy="596.6" rx="2.6" ry="3.5" transform="rotate(15 606.4 596.6)" style="stroke-width:1.5"/>
<path class="k" d="M614.0,590.0 C615.8,591.3 621.0,595.5 625.0,598.0 C629.0,600.5 635.7,603.7 637.8,604.8" style="stroke-width:1.0"/>
<path class="k" d="M617.0,580.0 C619.2,581.7 625.3,587.3 630.0,590.0 C634.7,592.7 642.5,595.0 645.0,596.0" style="stroke-width:1.0"/>
<path class="k" d="M617.0,603.4 L640.8,606.3 L645.3,610.8" style="stroke-width:1.0"/>
<ellipse class="kw" cx="676.0" cy="549.0" rx="64.0" ry="50.0" transform="rotate(-64 676.0 549.0)" style="stroke-width:1.9"/>
<ellipse class="kw" cx="677.89" cy="549.94" rx="63.38" ry="49.51" transform="rotate(-64 677.89 549.94)" style="stroke-width:1.0"/>
<ellipse class="kw" cx="679.78" cy="550.88" rx="62.75" ry="49.02" transform="rotate(-64 679.78 550.88)" style="stroke-width:1.3"/>
<ellipse class="kw" cx="683.56" cy="552.75" rx="61.5" ry="48.05" transform="rotate(-64 683.56 552.75)" style="stroke-width:1.4"/>
<ellipse class="kw" cx="685.58" cy="553.75" rx="60.84" ry="47.53" transform="rotate(-64 685.58 553.75)" style="stroke-width:0.9"/>
<ellipse class="kw" cx="687.59" cy="554.75" rx="60.17" ry="47.01" transform="rotate(-64 687.59 554.75)" style="stroke-width:1.2"/>
<ellipse class="kw" cx="691.12" cy="556.5" rx="59.01" ry="46.1" transform="rotate(-64 691.12 556.5)" style="stroke-width:1.0"/>
<ellipse class="kw" cx="694.14" cy="558.0" rx="56.27" ry="43.96" transform="rotate(-64 694.14 558.0)" style="stroke-width:0.9"/>
<ellipse class="kw" cx="697.17" cy="559.5" rx="53.02" ry="41.42" transform="rotate(-64 697.17 559.5)" style="stroke-width:0.8"/>
<path class="k" d="M677.0,534.0 L676.0,539.0" style="stroke-width:2"/>
<path class="k" d="M664.0,583.0 L670.0,578.0" style="stroke-width:2.2;stroke-dasharray:1 0.8"/>
<path class="kt" d="M655.0,495.5 C653.0,496.3 646.8,497.9 643.0,500.5 C639.2,503.1 635.2,506.6 632.0,511.0 C628.8,515.4 625.7,521.3 623.5,527.0 C621.3,532.7 620.0,538.9 619.0,545.0 C618.0,551.1 617.9,560.7 617.7,563.8" style="stroke-width:2.2"/>
<ellipse class="k" cx="701.2" cy="561.5" rx="55.1" ry="37.8" transform="rotate(-67.9 701.2 561.5)" style="stroke-width:1.7"/>
<ellipse class="k" cx="701.2" cy="561.5" rx="52.5" ry="35.4" transform="rotate(-67.9 701.2 561.5)" style="stroke-width:1.3"/>
<path class="k" d="M738.5,545.0 L741.5,546.0" style="stroke:#fff;stroke-width:1.6"/>
<path class="k" d="M741.0,530.0 L744.0,530.5" style="stroke:#fff;stroke-width:1.6"/>
<ellipse class="ktw" cx="722.3" cy="455.5" rx="5.6" ry="8.2" transform="rotate(32 722.3 455.5)" style="stroke-width:1.5"/>
<ellipse class="kf" cx="722.6" cy="455.8" rx="1.5" ry="2.1" transform="rotate(32 722.6 455.8)" />
<path class="k" d="M732.5,462.5 L758.5,478.3" style="stroke-width:4.2;stroke:#111"/>
<path class="k" d="M735.0,463.8 L757.0,477.2" style="stroke-width:2;stroke:#bbb;stroke-dasharray:1 1.2"/>
<ellipse class="ktw" cx="761.5" cy="480.2" rx="3.4" ry="3.8" transform="rotate(20 761.5 480.2)" style="stroke-width:1.5"/>
<ellipse class="k" cx="762" cy="480.4" rx="1.4" ry="1.6" transform="rotate(20 762 480.4)" style="stroke-width:0.8"/>
<path class="kw" d="M636.8,381.4 L638.9,380.7 L677.8,400.5 L678.5,406.0 L674.4,408.0 L636.8,385.5 Z" style="stroke-width:0.9"/>
<path class="k" d="M642.3,386.9 L673.7,403.3" style="stroke-width:0.6"/>
<path class="k" d="M673.7,403.3 L674.4,408.0" style="stroke-width:0.6"/>
<path class="k" d="M638.5,380.8 L641.6,377.3 L643.0,381.5" style="stroke-width:1"/>
<path class="k" d="M643.5,381.8 L645.8,378.8 L647.5,383.0" style="stroke-width:1"/>
<path class="k" d="M648.0,383.3 L651.0,381.5 L652.0,385.0" style="stroke-width:0.9"/>
<path class="k" d="M652.6,385.5 L660.0,389.2" style="stroke-width:1.8"/>
<path class="k" d="M637.5,383.0 L652.0,390.0" style="stroke-width:1.4"/>
<path class="k" d="M660.8,392.3 L677.8,383.1 L682.0,384.8 L682.6,391.7 L680.5,392.5" style="stroke-width:0.9"/>
<path class="k" d="M663.0,394.0 L677.2,386.5 L677.8,391.0" style="stroke-width:0.7"/>
<path class="k" d="M647.0,400.5 L652.6,397.1" style="stroke-width:2.6;stroke:#666"/>
<path class="k" d="M526.5,455.0 L533.0,459.0" style="stroke-width:2.8;stroke:#111"/>
<ellipse class="kf" cx="534.4" cy="460" rx="2.6" ry="2.3" transform="rotate(20 534.4 460)" />
<path class="k" d="M528.5,456.5 L529.5,457.0" style="stroke:#fff;stroke-width:0.6"/>
<rect x="582" y="551" width="22" height="11.5" fill="#fff"/>
</g>
<!-- bottom -->
<g id="bottom">
<ellipse class="ktw" cx="383" cy="607" rx="8" ry="9.5" transform="rotate(25 383 607)" style="stroke-width:1.8"/>
<ellipse class="k" cx="384.5" cy="606.5" rx="5" ry="6.5" transform="rotate(25 384.5 606.5)" style="stroke-width:1.1"/>
<ellipse class="ktw" cx="385.5" cy="607" rx="2.6" ry="3.5" transform="rotate(25 385.5 607)" style="stroke-width:1.4"/>
<path class="kw" d="M379.0,593.0 L392.0,597.0 L388.0,606.0 L377.0,602.0 Z" style="stroke-width:1.2"/>
<path class="kw" d="M390.2,545.5 L408.9,549.0 L395.9,594.6 L377.2,590.5 Z" style="stroke-width:1.5"/>
<path class="k" d="M377.2,590.5 C377.8,591.1 379.5,593.2 381.0,594.0 C382.5,594.8 384.2,595.2 386.0,595.5 C387.8,595.8 390.4,596.1 392.0,596.0 C393.6,595.9 395.2,594.8 395.9,594.6" style="stroke-width:1.3"/>
<path class="k" d="M388.0,548.0 L391.0,546.0" />
<path class="k" d="M386.5,553.0 L394.5,555.0 L391.5,566.0 L383.5,564.0 Z" style="stroke-width:1.1"/>
<path class="k" d="M382.0,571.0 L390.5,573.0 L387.0,586.0 L378.5,584.0 Z" style="stroke-width:1.1"/>
<ellipse class="k" cx="380.5" cy="590" rx="1.5" ry="1.5" transform="rotate(0 380.5 590)" style="stroke-width:0.8"/>
<ellipse class="kw" cx="400.0" cy="537.5" rx="10" ry="3.2" transform="rotate(12 400.0 537.5)" style="stroke-width:1.2"/>
<ellipse class="kw" cx="400.0" cy="540.5" rx="10" ry="3.2" transform="rotate(12 400.0 540.5)" style="stroke-width:1.2"/>
<ellipse class="kw" cx="400.0" cy="543.5" rx="10" ry="3.2" transform="rotate(12 400.0 543.5)" style="stroke-width:1.2"/>
<ellipse class="kw" cx="400.0" cy="546.5" rx="10" ry="3.2" transform="rotate(12 400.0 546.5)" style="stroke-width:1.2"/>
<ellipse class="ktw" cx="404.5" cy="528.5" rx="8" ry="11" transform="rotate(22 404.5 528.5)" style="stroke-width:1.8"/>
<ellipse class="k" cx="406.5" cy="528.5" rx="5" ry="7.5" transform="rotate(22 406.5 528.5)" style="stroke-width:1.1"/>
<ellipse class="ktw" cx="408.2" cy="529.5" rx="2.6" ry="3.6" transform="rotate(22 408.2 529.5)" style="stroke-width:1.6"/>
<path class="k" d="M397.5,520.0 L400.0,518.5" />
<path class="kw" d="M396.5,613.0 L408.0,617.0 L405.0,626.0 L395.0,622.0 Z" style="stroke-width:1.3"/>
<path class="k" d="M397.5,615.0 L396.5,620.5" style="stroke-width:2.4;stroke-dasharray:0.8 0.8"/>
<ellipse class="ktw" cx="396" cy="617.5" rx="2.4" ry="4.8" transform="rotate(20 396 617.5)" style="stroke-width:1.4"/>
<ellipse class="ktw" cx="411.5" cy="623" rx="6.5" ry="7" transform="rotate(15 411.5 623)" style="stroke-width:1.6"/>
<ellipse class="k" cx="412.2" cy="622.6" rx="3.8" ry="4.2" transform="rotate(15 412.2 622.6)" style="stroke-width:1"/>
<ellipse class="k" cx="412.5" cy="622.5" rx="1.6" ry="1.8" transform="rotate(15 412.5 622.5)" style="stroke-width:0.9"/>
<path class="kw" d="M469.8,595.5 L480.0,579.0 L484.7,579.8 L567.5,626.0 L575.3,633.8 L573.8,637.7 L561.2,644.7 L469.8,596.2 Z" style="stroke-width:1.3"/>
<path class="k" d="M469.8,596.3 L472.0,597.8 L559.7,641.6 L561.2,644.7" style="stroke-width:1.2"/>
<path class="k" d="M472.0,597.8 L481.0,582.0 L484.7,580.6" style="stroke-width:0.8"/>
<path class="k" d="M481.0,582.0 L565.5,628.5 L575.3,633.8" style="stroke-width:0.8"/>
<path class="k" d="M565.5,628.5 L560.5,641.5" style="stroke-width:0.8"/>
<path class="k" d="M491.5,585.5 L494.5,587.5" style="stroke-width:1.6"/>
<path class="k" d="M510.3,594.8 L513.3,596.8" style="stroke-width:1.6"/>
<path class="k" d="M529.1,605.7 L532.1,607.7" style="stroke-width:1.6"/>
<path class="k" d="M547.8,615.8 L550.8,617.8" style="stroke-width:1.6"/>
<path class="kw" d="M466.0,552.0 L470.0,550.5 L473.0,553.0 L476.0,552.0 L477.0,556.0 L474.0,559.0 L477.0,563.0 L475.0,567.0 L470.0,568.5 L467.0,565.0 L468.0,560.0 L465.5,557.0 Z" style="stroke-width:1.3"/>
<path class="k" d="M468.5,554.0 L472.0,556.0 L471.0,561.0 L473.0,565.0" style="stroke-width:1.1"/>
<path class="k" d="M470.0,550.5 L474.0,549.5 L477.0,551.0" style="stroke-width:0.8"/>
<path class="k" d="M576.5,267.0 C576.3,265.5 575.7,260.5 575.5,258.0 C575.3,255.5 575.2,253.4 575.5,252.0 C575.8,250.6 576.8,249.8 577.5,249.5 C578.2,249.2 579.6,248.9 580.0,250.0 C580.4,251.1 580.3,254.0 580.0,256.0 C579.7,258.0 578.3,261.0 578.0,262.0" style="stroke-width:1.3"/>
<path class="k" d="M578.5,250.0 C579.2,249.9 581.2,249.2 582.5,249.5 C583.8,249.8 585.2,250.5 586.0,251.5 C586.8,252.5 587.2,254.4 587.0,255.5 C586.8,256.6 586.0,257.6 585.0,258.0 C584.0,258.4 581.8,258.5 581.0,258.0 C580.2,257.5 580.2,255.5 580.0,255.0" style="stroke-width:1.3"/>
<path class="k" d="M577.5,262.0 L578.5,267.0" style="stroke-width:1.1"/>
<path class="kw" d="M567.3,268.0 L587.2,271.5 L583.8,296.0 L564.0,292.5 Z" style="stroke-width:1.2"/>
<path class="k" d="M587.4,270.9 C587.3,271.0 587.2,271.4 587.0,271.6 C586.7,271.8 586.3,272.0 585.9,272.2 C585.4,272.4 584.8,272.5 584.2,272.6 C583.6,272.7 582.8,272.7 582.1,272.8 C581.3,272.8 580.5,272.8 579.7,272.7 C578.8,272.7 577.9,272.6 577.1,272.5 C576.2,272.4 575.3,272.2 574.5,272.0 C573.7,271.8 572.9,271.6 572.2,271.4 C571.5,271.1 570.8,270.9 570.2,270.6 C569.6,270.4 569.1,270.1 568.7,269.8 C568.3,269.5 568.0,269.2 567.8,268.9 C567.6,268.6 567.6,268.2 567.6,268.1" style="stroke-width:0.9"/>
<path class="k" d="M587.0,273.4 C586.9,273.5 586.8,273.9 586.6,274.1 C586.3,274.3 585.9,274.5 585.5,274.7 C585.0,274.9 584.4,275.0 583.8,275.1 C583.2,275.2 582.5,275.2 581.7,275.3 C580.9,275.3 580.1,275.3 579.3,275.2 C578.4,275.2 577.5,275.1 576.7,275.0 C575.8,274.9 575.0,274.7 574.1,274.5 C573.3,274.3 572.5,274.1 571.8,273.9 C571.1,273.6 570.4,273.4 569.8,273.1 C569.2,272.9 568.7,272.6 568.3,272.3 C567.9,272.0 567.6,271.7 567.4,271.4 C567.3,271.1 567.2,270.7 567.2,270.6" style="stroke-width:0.9"/>
<path class="k" d="M586.6,275.9 C586.5,276.0 586.4,276.4 586.2,276.6 C585.9,276.8 585.5,277.0 585.1,277.2 C584.6,277.4 584.1,277.5 583.4,277.6 C582.8,277.7 582.1,277.7 581.3,277.8 C580.6,277.8 579.7,277.8 578.9,277.7 C578.0,277.7 577.2,277.6 576.3,277.5 C575.4,277.4 574.6,277.2 573.8,277.0 C572.9,276.8 572.1,276.6 571.4,276.4 C570.7,276.1 570.0,275.9 569.4,275.6 C568.8,275.4 568.3,275.1 567.9,274.8 C567.5,274.5 567.2,274.2 567.0,273.9 C566.9,273.6 566.9,273.2 566.8,273.1" style="stroke-width:0.9"/>
<path class="k" d="M586.2,278.4 C586.2,278.5 586.0,278.9 585.8,279.1 C585.5,279.3 585.2,279.5 584.7,279.7 C584.2,279.9 583.7,280.0 583.0,280.1 C582.4,280.2 581.7,280.2 580.9,280.3 C580.2,280.3 579.3,280.3 578.5,280.2 C577.7,280.2 576.8,280.1 575.9,280.0 C575.1,279.9 574.2,279.7 573.4,279.5 C572.5,279.3 571.7,279.1 571.0,278.9 C570.3,278.6 569.6,278.4 569.0,278.1 C568.5,277.9 567.9,277.6 567.5,277.3 C567.1,277.0 566.8,276.7 566.7,276.4 C566.5,276.1 566.5,275.7 566.4,275.6" style="stroke-width:0.9"/>
<path class="k" d="M585.8,280.9 C585.8,281.0 585.7,281.4 585.4,281.6 C585.1,281.8 584.8,282.0 584.3,282.2 C583.8,282.4 583.3,282.5 582.6,282.6 C582.0,282.7 581.3,282.7 580.5,282.8 C579.8,282.8 578.9,282.8 578.1,282.7 C577.3,282.7 576.4,282.6 575.5,282.5 C574.7,282.4 573.8,282.2 573.0,282.0 C572.2,281.8 571.3,281.6 570.6,281.4 C569.9,281.1 569.2,280.9 568.6,280.6 C568.1,280.4 567.6,280.1 567.2,279.8 C566.8,279.5 566.5,279.2 566.3,278.9 C566.1,278.6 566.1,278.2 566.0,278.1" style="stroke-width:0.9"/>
<path class="k" d="M585.5,283.4 C585.4,283.5 585.3,283.9 585.0,284.1 C584.8,284.3 584.4,284.5 583.9,284.7 C583.5,284.9 582.9,285.0 582.3,285.1 C581.6,285.2 580.9,285.2 580.1,285.3 C579.4,285.3 578.5,285.3 577.7,285.2 C576.9,285.2 576.0,285.1 575.1,285.0 C574.3,284.9 573.4,284.7 572.6,284.5 C571.8,284.3 571.0,284.1 570.2,283.9 C569.5,283.6 568.8,283.4 568.3,283.1 C567.7,282.9 567.2,282.6 566.8,282.3 C566.4,282.0 566.1,281.7 565.9,281.4 C565.7,281.1 565.7,280.7 565.6,280.6" style="stroke-width:0.9"/>
<path class="k" d="M585.1,285.9 C585.0,286.0 584.9,286.4 584.6,286.6 C584.4,286.8 584.0,287.0 583.5,287.2 C583.1,287.4 582.5,287.5 581.9,287.6 C581.2,287.7 580.5,287.7 579.7,287.8 C579.0,287.8 578.2,287.8 577.3,287.7 C576.5,287.7 575.6,287.6 574.7,287.5 C573.9,287.4 573.0,287.2 572.2,287.0 C571.4,286.8 570.6,286.6 569.8,286.4 C569.1,286.1 568.4,285.9 567.9,285.6 C567.3,285.4 566.8,285.1 566.4,284.8 C566.0,284.5 565.7,284.2 565.5,283.9 C565.3,283.6 565.3,283.2 565.3,283.1" style="stroke-width:0.9"/>
<path class="k" d="M584.7,288.4 C584.6,288.5 584.5,288.9 584.2,289.1 C584.0,289.3 583.6,289.5 583.1,289.7 C582.7,289.9 582.1,290.0 581.5,290.1 C580.8,290.2 580.1,290.2 579.4,290.3 C578.6,290.3 577.8,290.3 576.9,290.2 C576.1,290.2 575.2,290.1 574.4,290.0 C573.5,289.9 572.6,289.7 571.8,289.5 C571.0,289.3 570.2,289.1 569.5,288.9 C568.7,288.6 568.1,288.4 567.5,288.1 C566.9,287.9 566.4,287.6 566.0,287.3 C565.6,287.0 565.3,286.7 565.1,286.4 C564.9,286.1 564.9,285.7 564.9,285.6" style="stroke-width:0.9"/>
<path class="k" d="M584.3,290.9 C584.2,291.0 584.1,291.4 583.8,291.6 C583.6,291.8 583.2,292.0 582.7,292.2 C582.3,292.4 581.7,292.5 581.1,292.6 C580.5,292.7 579.7,292.7 579.0,292.8 C578.2,292.8 577.4,292.8 576.5,292.7 C575.7,292.7 574.8,292.6 574.0,292.5 C573.1,292.4 572.2,292.2 571.4,292.0 C570.6,291.8 569.8,291.6 569.1,291.4 C568.3,291.1 567.7,290.9 567.1,290.6 C566.5,290.4 566.0,290.1 565.6,289.8 C565.2,289.5 564.9,289.2 564.7,288.9 C564.5,288.6 564.5,288.2 564.5,288.1" style="stroke-width:0.9"/>
<path class="k" d="M583.9,293.4 C583.8,293.5 583.7,293.9 583.4,294.1 C583.2,294.3 582.8,294.5 582.4,294.7 C581.9,294.9 581.3,295.0 580.7,295.1 C580.1,295.2 579.3,295.2 578.6,295.3 C577.8,295.3 577.0,295.3 576.1,295.2 C575.3,295.2 574.4,295.1 573.6,295.0 C572.7,294.9 571.8,294.7 571.0,294.5 C570.2,294.3 569.4,294.1 568.7,293.9 C568.0,293.6 567.3,293.4 566.7,293.1 C566.1,292.9 565.6,292.6 565.2,292.3 C564.8,292.0 564.5,291.7 564.3,291.4 C564.1,291.1 564.1,290.7 564.1,290.6" style="stroke-width:0.9"/>
<path class="k" d="M583.5,295.9 C583.4,296.0 583.3,296.4 583.1,296.6 C582.8,296.8 582.4,297.0 582.0,297.2 C581.5,297.4 580.9,297.5 580.3,297.6 C579.7,297.7 578.9,297.7 578.2,297.8 C577.4,297.8 576.6,297.8 575.8,297.7 C574.9,297.7 574.0,297.6 573.2,297.5 C572.3,297.4 571.4,297.2 570.6,297.0 C569.8,296.8 569.0,296.6 568.3,296.4 C567.6,296.1 566.9,295.9 566.3,295.6 C565.7,295.4 565.2,295.1 564.8,294.8 C564.4,294.5 564.1,294.2 563.9,293.9 C563.7,293.6 563.7,293.2 563.7,293.1" style="stroke-width:0.9"/>
<ellipse class="k" cx="577.5" cy="269.3" rx="10" ry="3.3" transform="rotate(8 577.5 269.3)" style="stroke-width:1.2"/>
<ellipse class="kw" cx="573.6" cy="295.2" rx="10.2" ry="4.5" transform="rotate(8 573.6 295.2)" style="stroke-width:1.4"/>
<ellipse class="k" cx="574" cy="295.8" rx="7" ry="2.8" transform="rotate(8 574 295.8)" style="stroke-width:0.8"/>
<path class="k" d="M568.0,297.0 C567.8,298.7 567.1,303.5 566.5,307.0 C565.9,310.5 565.0,314.6 564.5,318.0 C564.0,321.4 563.5,326.1 563.3,327.7" style="stroke-width:1.1"/>
<path class="k" d="M569.5,297.5 C569.2,299.2 568.6,304.4 568.0,308.0 C567.4,311.6 566.5,315.8 566.0,319.0 C565.5,322.2 565.2,325.7 565.0,327.0" style="stroke-width:0.9"/>
<path class="k" d="M562.5,326.0 C562.1,326.7 560.3,328.4 560.0,330.0 C559.7,331.6 559.8,334.0 560.5,335.5 C561.2,337.0 563.1,338.5 564.5,338.8 C565.9,339.1 567.9,338.3 569.0,337.5 C570.1,336.7 570.9,335.0 571.0,334.0 C571.1,333.0 570.1,331.7 569.5,331.5 C568.9,331.3 568.1,332.4 567.5,333.0 C566.9,333.6 566.7,334.8 566.0,335.0 C565.3,335.2 563.9,334.8 563.5,334.0 C563.1,333.2 563.2,331.2 563.5,330.0 C563.8,328.8 564.8,327.5 565.0,327.0" style="stroke-width:1.3"/>
</g>
<!-- leaders -->
<g class="ld">
  <path d="M204,206 L227,192.3 L236,192.3"/>
  <path d="M252,228 L271,217.5 L280,217.5"/>
  <path d="M265,249 L280,238.5 L289.5,238.5"/>
  <path d="M320.5,262.5 L329,262.5 L346,275"/>
  <path d="M313.5,282.5 L319,282.5 L325,278"/>
  <path d="M562,369 L607.5,344.6 L617.4,344.6"/>
  <path d="M575,378 L609,360 L617.4,360"/>
  <path d="M587.5,283 L612.5,274.5"/>
  <path d="M667,430 L778,365 L810,365"/>
  <path d="M692.5,441 L778,393 L810,393"/>
  <path d="M730,448.6 L779,421 L790,421"/>
  <path d="M745,462 L782,441 L790,441"/>
  <path d="M726,503 L731,497 L744.6,497"/>
  <path d="M743,528 Q745,520 751.7,519.7 L763.5,519.7"/>
  <path d="M604,555.8 L610.8,555.8 L616,551"/>
  <path d="M663.5,387.2 L677.8,379.4 L681,379.4"/>
  <path d="M526.7,454 L526.7,445.2 L531.6,445.2"/>
  <path d="M467,569 L467,575 L463.5,575"/>
  <path d="M535,634 L500.5,654.2 L490.6,654.2"/>
  <path d="M375.4,614.2 L350.5,630 L340.3,630"/>
  <path d="M402.7,626 L341.4,664.3 L330.8,664.3"/>
  <path d="M231.5,451.3 L240.3,451.3 L240.3,312"/>
  <path d="M231.5,463.5 L255.2,463.5 L255.2,325"/>
  <path d="M231.5,479.4 L266.2,479.4 L266.2,330"/>
  <path d="M203,491 L270.7,491 L384,424.7"/>
  <path d="M397.3,270.6 L400.5,267.3 L406.7,267.3"/>
  <path d="M438,287 L444,280.5 L452,280.5"/>
  <path d="M200,445 Q197,445 197,449 L197,468 Q197,471.7 194.5,471.7 Q197,471.7 197,475 L197,494 Q197,498 200,498" style="stroke-width:1.8;stroke:#111"/>
</g>

<!-- labels -->
<g id="labels" opacity="0.999">
<text x="237.3" y="196.5" style="stroke:#1a1a1a;stroke-width:0.2" transform="matrix(1,0,0,1.1,0,-19.65)">531</text>
<text x="281" y="221.3" style="stroke:#1a1a1a;stroke-width:0.2" transform="matrix(1,0,0,1.1,0,-22.13)">253</text>
<text x="291" y="243" style="stroke:#1a1a1a;stroke-width:0.2" transform="matrix(1,0,0,1.1,0,-24.30)">264</text>
<text x="288.3" y="267.5" style="stroke:#1a1a1a;stroke-width:0.2" transform="matrix(1,0,0,1.1,0,-26.75)">254A</text>
<text x="281.7" y="287.4" style="stroke:#1a1a1a;stroke-width:0.2" transform="matrix(1,0,0,1.1,0,-28.74)">531E</text>
<text x="408" y="272.5" style="stroke:#1a1a1a;stroke-width:0.2" transform="matrix(1,0,0,1.1,0,-27.25)">531C</text>
<text x="453" y="285.5" style="stroke:#1a1a1a;stroke-width:0.2" transform="matrix(1,0,0,1.1,0,-28.55)">257</text>
<text x="612.5" y="278.4" style="stroke:#1a1a1a;stroke-width:0.2" transform="matrix(1,0,0,1.1,0,-27.84)">260</text>
<text x="620" y="349" style="stroke:#1a1a1a;stroke-width:0.2" transform="matrix(1,0,0,1.1,0,-34.90)">250</text>
<text x="619" y="363.6" style="stroke:#1a1a1a;stroke-width:0.2" transform="matrix(1,0,0,1.1,0,-36.36)">130</text>
<text x="681.5" y="386" style="stroke:#1a1a1a;stroke-width:0.2" transform="matrix(1,0,0,1.1,0,-38.60)">523B</text>
<text x="811.5" y="368.4" style="stroke:#1a1a1a;stroke-width:0.2" transform="matrix(1,0,0,1.1,0,-36.84)">150</text>
<text x="813" y="396.1" style="stroke:#1a1a1a;stroke-width:0.2" transform="matrix(1,0,0,1.1,0,-39.61)">257A</text>
<text x="791" y="427" style="stroke:#1a1a1a;stroke-width:0.2" transform="matrix(1,0,0,1.1,0,-42.70)">591A</text>
<text x="790.5" y="446" style="stroke:#1a1a1a;stroke-width:0.2" transform="matrix(1,0,0,1.1,0,-44.60)">531D</text>
<text x="532.7" y="449.9" style="stroke:#1a1a1a;stroke-width:0.2" transform="matrix(1,0,0,1.1,0,-44.99)">531B</text>
<text x="745.6" y="501.5" style="stroke:#1a1a1a;stroke-width:0.2" transform="matrix(1,0,0,1.1,0,-50.15)">115</text>
<text x="764.5" y="525.6" style="stroke:#1a1a1a;stroke-width:0.2" transform="matrix(1,0,0,1.1,0,-52.56)">125A</text>
<text x="581.6" y="561.3" style="stroke:#1a1a1a;stroke-width:0.2" transform="matrix(1,0,0,1.1,0,-56.13)">125</text>
<text x="431.5" y="580" style="stroke:#1a1a1a;stroke-width:0.2" transform="matrix(1,0,0,1.1,0,-58.00)">260B</text>
<text x="466.5" y="660" style="stroke:#1a1a1a;stroke-width:0.2" transform="matrix(1,0,0,1.1,0,-66.00)">262</text>
<text x="307.8" y="635" style="stroke:#1a1a1a;stroke-width:0.2" transform="matrix(1,0,0,1.1,0,-63.50)">251A</text>
<text x="307.8" y="670.8" style="stroke:#1a1a1a;stroke-width:0.2" transform="matrix(1,0,0,1.1,0,-67.08)">563</text>
<text x="206.5" y="455.7" style="stroke:#1a1a1a;stroke-width:0.2" transform="matrix(1,0,0,1.1,0,-45.57)">255</text>
<text x="206.5" y="468.4" style="stroke:#1a1a1a;stroke-width:0.2" transform="matrix(1,0,0,1.1,0,-46.84)">255</text>
<text x="199" y="483.9" style="stroke:#1a1a1a;stroke-width:0.2" transform="matrix(1,0,0,1.1,0,-48.39)">130X</text>
<text x="161.9" y="476.1" style="stroke:#1a1a1a;stroke-width:0.2" transform="matrix(1,0,0,1.1,0,-47.61)">150A</text>
<text x="783" y="739.6" style="font-size:8.4px;font-weight:bold;letter-spacing:-0.2px">9143030044</text>
</g>
<!-- wm -->
<g id="wm" style="mix-blend-mode:multiply">
<path d="M372.0,392.0 C374.5,390.0 381.5,387.3 385.0,388.0 C388.5,388.7 391.8,392.0 393.0,396.0 C394.2,400.0 393.2,407.0 392.0,412.0 C390.8,417.0 388.7,423.0 386.0,426.0 C383.3,429.0 378.7,430.2 376.0,430.0 C373.3,429.8 371.0,430.0 370.0,425.0 C369.0,420.0 369.7,405.5 370.0,400.0 C370.3,394.5 369.5,394.0 372.0,392.0 Z" fill="#e4e2e8"/>
<ellipse cx="410" cy="372" rx="27" ry="24" fill="#fcfbf4"/>
<path d="M398.0,345.0 C398.7,342.0 400.7,336.3 404.0,334.0 C407.3,331.7 413.3,330.7 418.0,331.0 C422.7,331.3 428.8,333.5 432.0,336.0 C435.2,338.5 436.8,343.3 437.0,346.0 C437.2,348.7 432.5,350.0 433.0,352.0 C433.5,354.0 438.2,355.3 440.0,358.0 C441.8,360.7 443.8,364.7 444.0,368.0 C444.2,371.3 442.8,376.0 441.0,378.0 C439.2,380.0 435.2,381.0 433.0,380.0 C430.8,379.0 429.5,375.3 428.0,372.0 C426.5,368.7 426.7,363.3 424.0,360.0 C421.3,356.7 416.0,353.3 412.0,352.0 C408.0,350.7 402.3,353.2 400.0,352.0 C397.7,350.8 397.3,348.0 398.0,345.0 Z" fill="#e4e2e8"/>
<path d="M394,360 q2,2 1,4" stroke="#9cc3d8" stroke-width="1.2" fill="none"/>
<path d="M422,368 q2,2 1,4" stroke="#9cc3d8" stroke-width="1.2" fill="none"/>
<ellipse cx="400" cy="388" rx="5" ry="3" fill="#f6dce6"/>
<path d="M0,6.6499999999999995 C-17.1,-4.75 -8.55,-16.15 0,-6.6499999999999995 C8.55,-16.15 17.1,-4.75 0,6.6499999999999995 Z" transform="translate(410,413) rotate(-15)" fill="#f6dce6"/>
<path d="M0,5.949999999999999 C-15.3,-4.25 -7.65,-14.45 0,-5.949999999999999 C7.65,-14.45 15.3,-4.25 0,5.949999999999999 Z" transform="translate(430,412) rotate(10)" fill="#f6dce6"/>
<path d="M0,3.5 C-9.0,-2.5 -4.5,-8.5 0,-3.5 C4.5,-8.5 9.0,-2.5 0,3.5 Z" transform="translate(398,427) rotate(-10)" fill="#f6dce6"/>
<path d="M0,4.55 C-11.700000000000001,-3.25 -5.8500000000000005,-11.049999999999999 0,-4.55 C5.8500000000000005,-11.049999999999999 11.700000000000001,-3.25 0,4.55 Z" transform="translate(414,430) rotate(5)" fill="#f6dce6"/>
<text x="492" y="397" style="font-family:'Liberation Sans',sans-serif;font-size:36px;font-style:italic;fill:#fdf7f9;stroke:#f4dee7;stroke-width:0.9" textLength="173" lengthAdjust="spacingAndGlyphs">ELMIX.CZ</text>
<text x="468" y="418" style="font-family:'Liberation Sans',sans-serif;font-size:11px;fill:#f3dde6" textLength="192" lengthAdjust="spacingAndGlyphs">VŠE POTŘEBNÉ PRO VAŠI DOMÁCNOST</text>
</g></svg>
</body></html>
